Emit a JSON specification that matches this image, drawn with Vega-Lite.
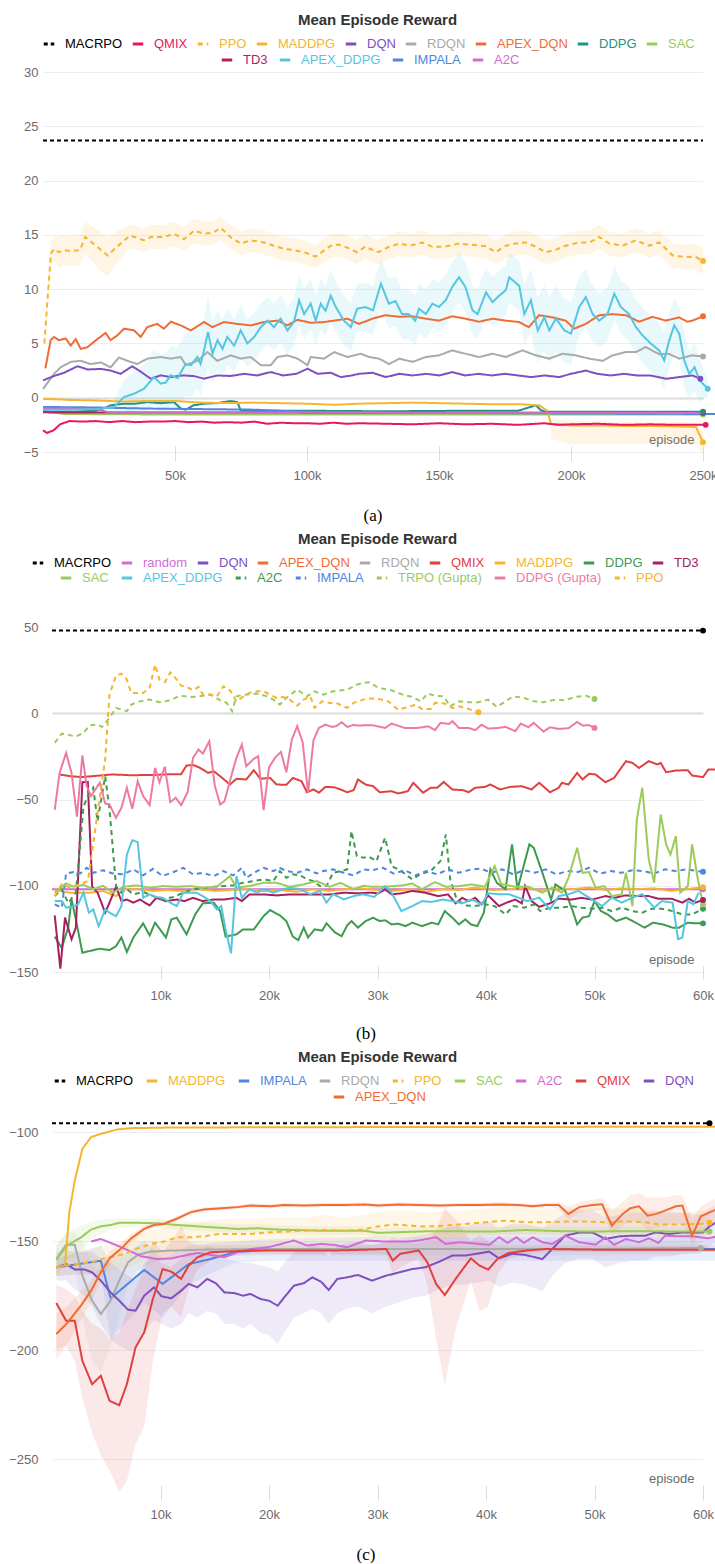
{
"$schema": "https://vega.github.io/schema/vega-lite/v6.json",
"padding": {"left": 8, "right": 0, "top": 13, "bottom": 0},
"spacing": 8,
"columns": 1,
"resolve": {"scale": {"color": "independent", "stroke": "independent", "strokeDash": "independent", "fill": "independent", "x": "independent", "y": "independent"}, "legend": {"color": "independent", "stroke": "independent", "strokeDash": "independent", "fill": "independent"}, "axis": {"x": "independent", "y": "independent"}},
"config": {
  "font": "Liberation Sans",
  "view": {"stroke": null},
  "axis": {"labelColor": "#6b6b6b", "labelFontSize": 13, "domain": false},
  "axisY": {"ticks": false, "tickSize": 0, "labelPadding": 14, "gridColor": "#ececec"},
  "axisX": {"grid": false, "tickColor": "#dddddd"},
  "legend": {"labelFont": "Liberation Sans", "title": null, "direction": "horizontal", "symbolType": "stroke", "symbolStrokeWidth": 3, "symbolSize": 110, "labelFontSize": 13, "columnPadding": 3, "labelOffset": 9}
},
"datasets": {
"a": [
{"s":"MACRPO","x":0,"y":23.7},{"s":"MACRPO","x":250,"y":23.7},
{"s":"SAC","x":0,"y":-1.2},{"s":"SAC","x":8,"y":-1.5},{"s":"SAC","x":50,"y":-1.55},{"s":"SAC","x":100,"y":-1.55},{"s":"SAC","x":150,"y":-1.55},{"s":"SAC","x":200,"y":-1.55},{"s":"SAC","x":250,"y":-1.55},
{"s":"TD3","x":0,"y":-1.35},{"s":"TD3","x":125,"y":-1.38},{"s":"TD3","x":250,"y":-1.4},
{"s":"IMPALA","x":0,"y":-0.85},{"s":"IMPALA","x":20,"y":-0.9},{"s":"IMPALA","x":40,"y":-1.0},{"s":"IMPALA","x":60,"y":-1.05},{"s":"IMPALA","x":80,"y":-1.1},{"s":"IMPALA","x":100,"y":-1.3},{"s":"IMPALA","x":150,"y":-1.4},{"s":"IMPALA","x":200,"y":-1.45},{"s":"IMPALA","x":256,"y":-1.5},
{"s":"A2C","x":0,"y":-1.0},{"s":"A2C","x":10,"y":-1.0},{"s":"A2C","x":20,"y":-1.05},{"s":"A2C","x":25,"y":-1.35},{"s":"A2C","x":250,"y":-1.4},
{"s":"DDPG","x":0,"y":-1.3},{"s":"DDPG","x":10,"y":-1.3},{"s":"DDPG","x":15,"y":-1.25},{"s":"DDPG","x":20,"y":-1.2},{"s":"DDPG","x":24,"y":-0.9},{"s":"DDPG","x":25.6,"y":-0.7},{"s":"DDPG","x":30.7,"y":-0.55},{"s":"DDPG","x":35,"y":-0.55},{"s":"DDPG","x":39.5,"y":-0.4},{"s":"DDPG","x":44.6,"y":-0.5},{"s":"DDPG","x":49.6,"y":-0.4},{"s":"DDPG","x":52.2,"y":-1.0},{"s":"DDPG","x":54.1,"y":-1.1},{"s":"DDPG","x":57,"y":-0.7},{"s":"DDPG","x":61,"y":-0.55},{"s":"DDPG","x":66,"y":-0.5},{"s":"DDPG","x":71,"y":-0.3},{"s":"DDPG","x":73.6,"y":-0.4},{"s":"DDPG","x":74.9,"y":-1.17},{"s":"DDPG","x":80,"y":-1.2},{"s":"DDPG","x":100,"y":-1.2},{"s":"DDPG","x":130,"y":-1.25},{"s":"DDPG","x":160,"y":-1.2},{"s":"DDPG","x":180,"y":-1.2},{"s":"DDPG","x":186.7,"y":-0.7},{"s":"DDPG","x":188.6,"y":-1.15},{"s":"DDPG","x":190.4,"y":-1.3},{"s":"DDPG","x":220,"y":-1.3},{"s":"DDPG","x":250,"y":-1.3},
{"s":"MADDPG","x":0,"y":-0.1},{"s":"MADDPG","x":10,"y":-0.2},{"s":"MADDPG","x":20,"y":-0.25},{"s":"MADDPG","x":30,"y":-0.35},{"s":"MADDPG","x":40,"y":-0.3},{"s":"MADDPG","x":50,"y":-0.3},{"s":"MADDPG","x":60,"y":-0.45},{"s":"MADDPG","x":70,"y":-0.5},{"s":"MADDPG","x":80,"y":-0.45},{"s":"MADDPG","x":90,"y":-0.5},{"s":"MADDPG","x":100,"y":-0.55},{"s":"MADDPG","x":110,"y":-0.65},{"s":"MADDPG","x":120,"y":-0.55},{"s":"MADDPG","x":130,"y":-0.5},{"s":"MADDPG","x":140,"y":-0.45},{"s":"MADDPG","x":150,"y":-0.5},{"s":"MADDPG","x":160,"y":-0.55},{"s":"MADDPG","x":170,"y":-0.6},{"s":"MADDPG","x":180,"y":-0.6},{"s":"MADDPG","x":188,"y":-0.7},{"s":"MADDPG","x":191,"y":-1.2},{"s":"MADDPG","x":192.4,"y":-2.4,"lo":-3.8,"hi":-2.0},{"s":"MADDPG","x":200,"y":-2.55,"lo":-4.3,"hi":-2.1},{"s":"MADDPG","x":210,"y":-2.55,"lo":-4.3,"hi":-2.2},{"s":"MADDPG","x":220,"y":-2.6,"lo":-4.3,"hi":-2.2},{"s":"MADDPG","x":230,"y":-2.6,"lo":-4.2,"hi":-2.2},{"s":"MADDPG","x":240,"y":-2.65,"lo":-4.2,"hi":-2.2},{"s":"MADDPG","x":247.3,"y":-2.7,"lo":-4.3,"hi":-2.3},{"s":"MADDPG","x":250,"y":-4.1,"lo":-5.2,"hi":-3.2},
{"s":"QMIX","x":0,"y":-3.0},{"s":"QMIX","x":1.5,"y":-3.25},{"s":"QMIX","x":4,"y":-3.0},{"s":"QMIX","x":6.5,"y":-2.45},{"s":"QMIX","x":10,"y":-2.15},{"s":"QMIX","x":15,"y":-2.2},{"s":"QMIX","x":20,"y":-2.15},{"s":"QMIX","x":25,"y":-2.25},{"s":"QMIX","x":30,"y":-2.15},{"s":"QMIX","x":35,"y":-2.25},{"s":"QMIX","x":40,"y":-2.2},{"s":"QMIX","x":45,"y":-2.2},{"s":"QMIX","x":50,"y":-2.15},{"s":"QMIX","x":55,"y":-2.25},{"s":"QMIX","x":60,"y":-2.2},{"s":"QMIX","x":65,"y":-2.3},{"s":"QMIX","x":70,"y":-2.25},{"s":"QMIX","x":75,"y":-2.3},{"s":"QMIX","x":80,"y":-2.2},{"s":"QMIX","x":85,"y":-2.4},{"s":"QMIX","x":90,"y":-2.3},{"s":"QMIX","x":95,"y":-2.35},{"s":"QMIX","x":100,"y":-2.35},{"s":"QMIX","x":105,"y":-2.4},{"s":"QMIX","x":110,"y":-2.3},{"s":"QMIX","x":115,"y":-2.4},{"s":"QMIX","x":120,"y":-2.35},{"s":"QMIX","x":130,"y":-2.4},{"s":"QMIX","x":140,"y":-2.45},{"s":"QMIX","x":150,"y":-2.35},{"s":"QMIX","x":160,"y":-2.45},{"s":"QMIX","x":170,"y":-2.4},{"s":"QMIX","x":180,"y":-2.5},{"s":"QMIX","x":190,"y":-2.35},{"s":"QMIX","x":195,"y":-2.5},{"s":"QMIX","x":200,"y":-2.45},{"s":"QMIX","x":210,"y":-2.4},{"s":"QMIX","x":220,"y":-2.5},{"s":"QMIX","x":230,"y":-2.45},{"s":"QMIX","x":240,"y":-2.5},{"s":"QMIX","x":251,"y":-2.5},
{"s":"RDQN","x":0,"y":0.8},{"s":"RDQN","x":4.2,"y":2.2},{"s":"RDQN","x":6.7,"y":2.8},{"s":"RDQN","x":10.5,"y":3.3},{"s":"RDQN","x":14.3,"y":3.4},{"s":"RDQN","x":18,"y":3.1},{"s":"RDQN","x":22,"y":3.25},{"s":"RDQN","x":25.6,"y":2.8},{"s":"RDQN","x":28.8,"y":3.7},{"s":"RDQN","x":32,"y":3.4},{"s":"RDQN","x":35.7,"y":3.1},{"s":"RDQN","x":39.5,"y":3.6},{"s":"RDQN","x":44.6,"y":3.75},{"s":"RDQN","x":48.4,"y":3.6},{"s":"RDQN","x":52.2,"y":3.75},{"s":"RDQN","x":54.1,"y":3.0},{"s":"RDQN","x":58.5,"y":3.4},{"s":"RDQN","x":62.3,"y":4.2},{"s":"RDQN","x":66,"y":3.4},{"s":"RDQN","x":71.1,"y":3.9},{"s":"RDQN","x":74.9,"y":3.6},{"s":"RDQN","x":78.7,"y":3.75},{"s":"RDQN","x":82.5,"y":3.0},{"s":"RDQN","x":86.3,"y":3.0},{"s":"RDQN","x":88.8,"y":3.75},{"s":"RDQN","x":92.6,"y":3.9},{"s":"RDQN","x":96.4,"y":3.6},{"s":"RDQN","x":100.2,"y":3.0},{"s":"RDQN","x":101.4,"y":3.75},{"s":"RDQN","x":106.5,"y":3.6},{"s":"RDQN","x":110.3,"y":4.2},{"s":"RDQN","x":115.3,"y":3.75},{"s":"RDQN","x":120.4,"y":4.05},{"s":"RDQN","x":123.5,"y":3.75},{"s":"RDQN","x":127.3,"y":3.6},{"s":"RDQN","x":131.1,"y":3.1},{"s":"RDQN","x":135,"y":3.6},{"s":"RDQN","x":140,"y":3.3},{"s":"RDQN","x":145,"y":3.75},{"s":"RDQN","x":150,"y":3.9},{"s":"RDQN","x":155,"y":4.36},{"s":"RDQN","x":160,"y":4.05},{"s":"RDQN","x":165.2,"y":3.75},{"s":"RDQN","x":170.3,"y":4.05},{"s":"RDQN","x":175.3,"y":3.75},{"s":"RDQN","x":181.6,"y":4.36},{"s":"RDQN","x":186.7,"y":3.9},{"s":"RDQN","x":191.7,"y":3.6},{"s":"RDQN","x":196.8,"y":4.05},{"s":"RDQN","x":201.8,"y":3.9},{"s":"RDQN","x":206.9,"y":3.6},{"s":"RDQN","x":212,"y":3.4},{"s":"RDQN","x":215.7,"y":3.9},{"s":"RDQN","x":220.8,"y":4.2},{"s":"RDQN","x":224.6,"y":4.2},{"s":"RDQN","x":228.3,"y":4.67},{"s":"RDQN","x":233.4,"y":4.0},{"s":"RDQN","x":237,"y":4.05},{"s":"RDQN","x":241,"y":3.6},{"s":"RDQN","x":245.7,"y":3.9},{"s":"RDQN","x":250,"y":3.8},
{"s":"DQN","x":0,"y":1.6},{"s":"DQN","x":4.2,"y":2.0},{"s":"DQN","x":8,"y":2.3},{"s":"DQN","x":13.1,"y":2.9},{"s":"DQN","x":16.9,"y":2.6},{"s":"DQN","x":22,"y":2.65},{"s":"DQN","x":25.6,"y":2.5},{"s":"DQN","x":29.4,"y":2.2},{"s":"DQN","x":33.8,"y":2.9},{"s":"DQN","x":37,"y":2.4},{"s":"DQN","x":40.8,"y":1.75},{"s":"DQN","x":44.6,"y":2.06},{"s":"DQN","x":48.4,"y":1.9},{"s":"DQN","x":53,"y":2.05},{"s":"DQN","x":57,"y":2.0},{"s":"DQN","x":61,"y":1.75},{"s":"DQN","x":66,"y":2.05},{"s":"DQN","x":71,"y":2.0},{"s":"DQN","x":76.2,"y":2.2},{"s":"DQN","x":81,"y":2.05},{"s":"DQN","x":86.3,"y":2.36},{"s":"DQN","x":91,"y":2.05},{"s":"DQN","x":96,"y":2.2},{"s":"DQN","x":100.2,"y":2.67},{"s":"DQN","x":104,"y":2.2},{"s":"DQN","x":109,"y":2.3},{"s":"DQN","x":112.8,"y":1.9},{"s":"DQN","x":117,"y":2.05},{"s":"DQN","x":119.7,"y":2.2},{"s":"DQN","x":124.8,"y":2.3},{"s":"DQN","x":129.8,"y":1.9},{"s":"DQN","x":135,"y":2.2},{"s":"DQN","x":140,"y":2.05},{"s":"DQN","x":145,"y":2.2},{"s":"DQN","x":150,"y":2.05},{"s":"DQN","x":155,"y":2.36},{"s":"DQN","x":160,"y":2.05},{"s":"DQN","x":165,"y":2.2},{"s":"DQN","x":170,"y":2.05},{"s":"DQN","x":175,"y":2.2},{"s":"DQN","x":180,"y":2.05},{"s":"DQN","x":185,"y":1.9},{"s":"DQN","x":190,"y":2.05},{"s":"DQN","x":195.5,"y":1.9},{"s":"DQN","x":200,"y":2.2},{"s":"DQN","x":205.6,"y":2.5},{"s":"DQN","x":210,"y":2.2},{"s":"DQN","x":215,"y":2.05},{"s":"DQN","x":220,"y":2.2},{"s":"DQN","x":225,"y":2.05},{"s":"DQN","x":230,"y":2.05},{"s":"DQN","x":236,"y":1.75},{"s":"DQN","x":241,"y":1.9},{"s":"DQN","x":246,"y":2.05},{"s":"DQN","x":249,"y":1.75},
{"s":"APEX_DQN","x":0.9,"y":2.7},{"s":"APEX_DQN","x":2.9,"y":5.3},{"s":"APEX_DQN","x":4.2,"y":5.6},{"s":"APEX_DQN","x":6,"y":5.3},{"s":"APEX_DQN","x":8.6,"y":5.45},{"s":"APEX_DQN","x":10.5,"y":4.8},{"s":"APEX_DQN","x":12.4,"y":5.4},{"s":"APEX_DQN","x":14.3,"y":4.5},{"s":"APEX_DQN","x":16.8,"y":4.65},{"s":"APEX_DQN","x":20.6,"y":5.4},{"s":"APEX_DQN","x":23.7,"y":5.96},{"s":"APEX_DQN","x":25.6,"y":5.3},{"s":"APEX_DQN","x":28.2,"y":5.75},{"s":"APEX_DQN","x":30.7,"y":6.36},{"s":"APEX_DQN","x":34.5,"y":6.2},{"s":"APEX_DQN","x":37,"y":5.6},{"s":"APEX_DQN","x":39.5,"y":6.5},{"s":"APEX_DQN","x":43.3,"y":6.8},{"s":"APEX_DQN","x":45.8,"y":6.36},{"s":"APEX_DQN","x":48.4,"y":7.0},{"s":"APEX_DQN","x":52.2,"y":6.66},{"s":"APEX_DQN","x":56,"y":6.2},{"s":"APEX_DQN","x":61,"y":6.97},{"s":"APEX_DQN","x":64.2,"y":6.5},{"s":"APEX_DQN","x":68.6,"y":6.97},{"s":"APEX_DQN","x":73.6,"y":6.8},{"s":"APEX_DQN","x":78.7,"y":6.66},{"s":"APEX_DQN","x":83.7,"y":6.97},{"s":"APEX_DQN","x":88.8,"y":7.1},{"s":"APEX_DQN","x":92.6,"y":6.66},{"s":"APEX_DQN","x":96.4,"y":7.18},{"s":"APEX_DQN","x":101.4,"y":6.9},{"s":"APEX_DQN","x":106.5,"y":6.97},{"s":"APEX_DQN","x":110.3,"y":7.1},{"s":"APEX_DQN","x":115.3,"y":7.28},{"s":"APEX_DQN","x":119.7,"y":6.8},{"s":"APEX_DQN","x":124.8,"y":7.28},{"s":"APEX_DQN","x":129.8,"y":7.6},{"s":"APEX_DQN","x":134.9,"y":7.45},{"s":"APEX_DQN","x":139.9,"y":7.5},{"s":"APEX_DQN","x":145,"y":7.28},{"s":"APEX_DQN","x":150,"y":7.1},{"s":"APEX_DQN","x":155,"y":7.5},{"s":"APEX_DQN","x":160,"y":7.28},{"s":"APEX_DQN","x":165.2,"y":7.0},{"s":"APEX_DQN","x":170.3,"y":7.28},{"s":"APEX_DQN","x":175.3,"y":7.1},{"s":"APEX_DQN","x":180.3,"y":6.97},{"s":"APEX_DQN","x":184,"y":6.5},{"s":"APEX_DQN","x":187.9,"y":7.6},{"s":"APEX_DQN","x":193,"y":7.4},{"s":"APEX_DQN","x":198,"y":7.1},{"s":"APEX_DQN","x":201.2,"y":6.36},{"s":"APEX_DQN","x":205.6,"y":6.8},{"s":"APEX_DQN","x":210.7,"y":7.6},{"s":"APEX_DQN","x":215.7,"y":7.7},{"s":"APEX_DQN","x":220.8,"y":7.6},{"s":"APEX_DQN","x":225.8,"y":7.0},{"s":"APEX_DQN","x":230.9,"y":7.45},{"s":"APEX_DQN","x":235.9,"y":7.1},{"s":"APEX_DQN","x":241,"y":7.4},{"s":"APEX_DQN","x":244,"y":7.0},{"s":"APEX_DQN","x":246,"y":7.1},{"s":"APEX_DQN","x":250,"y":7.5},
{"s":"APEX_DDPG","x":0,"y":-1.1},{"s":"APEX_DDPG","x":10,"y":-1.1},{"s":"APEX_DDPG","x":20,"y":-1.05},{"s":"APEX_DDPG","x":26.9,"y":-0.86,"lo":-1.5,"hi":-0.2},{"s":"APEX_DDPG","x":30.7,"y":0.06,"lo":-1.5,"hi":1.6},{"s":"APEX_DDPG","x":34.5,"y":0.37,"lo":-1.6,"hi":2.4},{"s":"APEX_DDPG","x":38.3,"y":0.83,"lo":-1.4,"hi":3.1},{"s":"APEX_DDPG","x":42,"y":1.9,"lo":-0.6,"hi":4.4},{"s":"APEX_DDPG","x":44.6,"y":1.3,"lo":-1.4,"hi":4.0},{"s":"APEX_DDPG","x":46.5,"y":1.4,"lo":-1.3,"hi":4.1},{"s":"APEX_DDPG","x":48.4,"y":2.06,"lo":-0.7,"hi":4.8},{"s":"APEX_DDPG","x":51,"y":1.8,"lo":-1.0,"hi":4.6},{"s":"APEX_DDPG","x":54,"y":3.1,"lo":0.2,"hi":6.0},{"s":"APEX_DDPG","x":56,"y":3.0,"lo":0.1,"hi":5.9},{"s":"APEX_DDPG","x":58.5,"y":3.75,"lo":0.8,"hi":6.7},{"s":"APEX_DDPG","x":59.7,"y":3.1,"lo":0.2,"hi":6.0},{"s":"APEX_DDPG","x":61,"y":4.36,"lo":1.4,"hi":7.3},{"s":"APEX_DDPG","x":62.5,"y":6.05,"lo":2.8,"hi":9.3},{"s":"APEX_DDPG","x":64.2,"y":4.05,"lo":1.2,"hi":6.9},{"s":"APEX_DDPG","x":66.1,"y":5.3,"lo":2.5,"hi":8.1},{"s":"APEX_DDPG","x":68,"y":4.5,"lo":1.8,"hi":7.2},{"s":"APEX_DDPG","x":69.8,"y":5.6,"lo":3.0,"hi":8.2},{"s":"APEX_DDPG","x":72.4,"y":4.8,"lo":2.4,"hi":7.2},{"s":"APEX_DDPG","x":74.9,"y":6.2,"lo":3.8,"hi":8.6},{"s":"APEX_DDPG","x":77.4,"y":5.0,"lo":2.8,"hi":7.2},{"s":"APEX_DDPG","x":80,"y":5.6,"lo":3.4,"hi":7.8},{"s":"APEX_DDPG","x":82.5,"y":6.5,"lo":4.3,"hi":8.7},{"s":"APEX_DDPG","x":85,"y":7.1,"lo":4.9,"hi":9.3},{"s":"APEX_DDPG","x":87.5,"y":6.5,"lo":4.3,"hi":8.7},{"s":"APEX_DDPG","x":90,"y":7.28,"lo":5.1,"hi":9.5},{"s":"APEX_DDPG","x":92.6,"y":6.2,"lo":4.0,"hi":8.4},{"s":"APEX_DDPG","x":95.1,"y":7.0,"lo":4.8,"hi":9.2},{"s":"APEX_DDPG","x":97,"y":8.97,"lo":6.6,"hi":11.3},{"s":"APEX_DDPG","x":98.9,"y":7.7,"lo":5.4,"hi":10.0},{"s":"APEX_DDPG","x":101.4,"y":8.66,"lo":6.3,"hi":11.0},{"s":"APEX_DDPG","x":103.3,"y":7.1,"lo":4.8,"hi":9.4},{"s":"APEX_DDPG","x":105.2,"y":8.66,"lo":6.3,"hi":11.0},{"s":"APEX_DDPG","x":107,"y":8.0,"lo":5.7,"hi":10.3},{"s":"APEX_DDPG","x":109,"y":9.4,"lo":7.0,"hi":11.8},{"s":"APEX_DDPG","x":110.9,"y":8.35,"lo":6.0,"hi":10.7},{"s":"APEX_DDPG","x":114,"y":7.1,"lo":4.8,"hi":9.4},{"s":"APEX_DDPG","x":116.6,"y":6.5,"lo":4.3,"hi":8.7},{"s":"APEX_DDPG","x":119,"y":8.2,"lo":6.0,"hi":10.4},{"s":"APEX_DDPG","x":122.2,"y":8.35,"lo":6.1,"hi":10.6},{"s":"APEX_DDPG","x":125,"y":8.05,"lo":5.8,"hi":10.3},{"s":"APEX_DDPG","x":128,"y":10.5,"lo":8.2,"hi":12.8},{"s":"APEX_DDPG","x":131,"y":8.66,"lo":6.4,"hi":10.9},{"s":"APEX_DDPG","x":133.5,"y":8.9,"lo":6.6,"hi":11.2},{"s":"APEX_DDPG","x":136,"y":7.7,"lo":5.4,"hi":10.0},{"s":"APEX_DDPG","x":138.5,"y":7.7,"lo":5.4,"hi":10.0},{"s":"APEX_DDPG","x":141,"y":7.1,"lo":4.8,"hi":9.4},{"s":"APEX_DDPG","x":142.4,"y":8.2,"lo":5.9,"hi":10.5},{"s":"APEX_DDPG","x":145,"y":7.7,"lo":5.4,"hi":10.0},{"s":"APEX_DDPG","x":147.5,"y":8.66,"lo":6.4,"hi":10.9},{"s":"APEX_DDPG","x":150,"y":8.35,"lo":6.1,"hi":10.6},{"s":"APEX_DDPG","x":152.6,"y":9.0,"lo":6.7,"hi":11.3},{"s":"APEX_DDPG","x":155,"y":10.2,"lo":7.9,"hi":12.5},{"s":"APEX_DDPG","x":157.6,"y":11.1,"lo":8.8,"hi":13.4},{"s":"APEX_DDPG","x":160,"y":10.2,"lo":7.9,"hi":12.5},{"s":"APEX_DDPG","x":162.7,"y":8.05,"lo":5.8,"hi":10.3},{"s":"APEX_DDPG","x":164.6,"y":7.7,"lo":5.4,"hi":10.0},{"s":"APEX_DDPG","x":167.8,"y":9.7,"lo":7.4,"hi":12.0},{"s":"APEX_DDPG","x":170.3,"y":8.8,"lo":6.5,"hi":11.1},{"s":"APEX_DDPG","x":172.8,"y":9.4,"lo":7.1,"hi":11.7},{"s":"APEX_DDPG","x":175.3,"y":9.9,"lo":7.6,"hi":12.2},{"s":"APEX_DDPG","x":176.6,"y":11.1,"lo":8.8,"hi":13.4},{"s":"APEX_DDPG","x":180.4,"y":10.3,"lo":8.0,"hi":12.6},{"s":"APEX_DDPG","x":182.3,"y":7.7,"lo":5.0,"hi":10.4},{"s":"APEX_DDPG","x":184.8,"y":8.97,"lo":6.0,"hi":11.9},{"s":"APEX_DDPG","x":187.4,"y":6.2,"lo":3.2,"hi":9.2},{"s":"APEX_DDPG","x":189.9,"y":7.4,"lo":4.4,"hi":10.4},{"s":"APEX_DDPG","x":191.8,"y":6.2,"lo":3.2,"hi":9.2},{"s":"APEX_DDPG","x":194.3,"y":7.3,"lo":4.3,"hi":10.3},{"s":"APEX_DDPG","x":197.5,"y":6.2,"lo":3.2,"hi":9.2},{"s":"APEX_DDPG","x":200,"y":5.9,"lo":3.0,"hi":8.8},{"s":"APEX_DDPG","x":203.1,"y":8.35,"lo":5.6,"hi":11.1},{"s":"APEX_DDPG","x":205.6,"y":9.27,"lo":6.6,"hi":11.9},{"s":"APEX_DDPG","x":208.2,"y":7.7,"lo":5.1,"hi":10.3},{"s":"APEX_DDPG","x":210.7,"y":7.1,"lo":4.6,"hi":9.6},{"s":"APEX_DDPG","x":213.8,"y":7.7,"lo":5.2,"hi":10.2},{"s":"APEX_DDPG","x":216.4,"y":9.58,"lo":7.1,"hi":12.1},{"s":"APEX_DDPG","x":218.9,"y":8.35,"lo":5.9,"hi":10.8},{"s":"APEX_DDPG","x":222,"y":7.7,"lo":5.2,"hi":10.2},{"s":"APEX_DDPG","x":224.6,"y":6.5,"lo":4.0,"hi":9.0},{"s":"APEX_DDPG","x":227.1,"y":5.74,"lo":3.2,"hi":8.3},{"s":"APEX_DDPG","x":230.3,"y":4.97,"lo":2.4,"hi":7.5},{"s":"APEX_DDPG","x":233.4,"y":4.36,"lo":1.8,"hi":6.9},{"s":"APEX_DDPG","x":235.3,"y":3.44,"lo":0.9,"hi":6.0},{"s":"APEX_DDPG","x":237.2,"y":5.28,"lo":2.7,"hi":7.8},{"s":"APEX_DDPG","x":239.1,"y":6.66,"lo":4.1,"hi":9.2},{"s":"APEX_DDPG","x":241,"y":5.9,"lo":3.4,"hi":8.4},{"s":"APEX_DDPG","x":242.9,"y":3.44,"lo":0.9,"hi":6.0},{"s":"APEX_DDPG","x":244.8,"y":2.2,"lo":0.0,"hi":4.4},{"s":"APEX_DDPG","x":246.8,"y":2.8,"lo":0.6,"hi":5.0},{"s":"APEX_DDPG","x":248.7,"y":1.6,"lo":-0.4,"hi":3.6},{"s":"APEX_DDPG","x":251.8,"y":0.83,"lo":0.0,"hi":1.7},
{"s":"PPO","x":0.5,"y":5.0,"lo":4.4,"hi":5.6},{"s":"PPO","x":3,"y":13.3,"lo":12.3,"hi":14.3},{"s":"PPO","x":4.2,"y":13.7,"lo":12.5,"hi":14.9},{"s":"PPO","x":6,"y":13.4,"lo":12.0,"hi":14.8},{"s":"PPO","x":8,"y":13.6,"lo":12.2,"hi":15.0},{"s":"PPO","x":10.5,"y":13.5,"lo":12.1,"hi":14.9},{"s":"PPO","x":14,"y":13.6,"lo":12.2,"hi":15.0},{"s":"PPO","x":16,"y":14.8,"lo":13.3,"hi":16.2},{"s":"PPO","x":18.5,"y":14.3,"lo":12.6,"hi":15.8},{"s":"PPO","x":22,"y":13.6,"lo":11.6,"hi":15.2},{"s":"PPO","x":24.5,"y":13.1,"lo":11.2,"hi":14.8},{"s":"PPO","x":28,"y":13.9,"lo":12.4,"hi":15.3},{"s":"PPO","x":33,"y":14.95,"lo":13.8,"hi":16.0},{"s":"PPO","x":38,"y":14.5,"lo":13.4,"hi":15.6},{"s":"PPO","x":41,"y":14.8,"lo":13.7,"hi":15.9},{"s":"PPO","x":45.8,"y":14.8,"lo":13.7,"hi":15.9},{"s":"PPO","x":49.6,"y":15.1,"lo":14.0,"hi":16.2},{"s":"PPO","x":53.4,"y":14.6,"lo":13.5,"hi":15.7},{"s":"PPO","x":57.2,"y":15.4,"lo":14.3,"hi":16.5},{"s":"PPO","x":61,"y":15.1,"lo":14.0,"hi":16.2},{"s":"PPO","x":64.5,"y":15.2,"lo":14.1,"hi":16.3},{"s":"PPO","x":67.3,"y":15.65,"lo":14.5,"hi":16.7},{"s":"PPO","x":71,"y":14.8,"lo":13.7,"hi":15.9},{"s":"PPO","x":74.9,"y":14.2,"lo":13.1,"hi":15.3},{"s":"PPO","x":78.7,"y":14.5,"lo":13.4,"hi":15.6},{"s":"PPO","x":83.7,"y":14.3,"lo":13.2,"hi":15.4},{"s":"PPO","x":87.5,"y":14.0,"lo":12.9,"hi":15.1},{"s":"PPO","x":91.3,"y":13.7,"lo":12.6,"hi":14.8},{"s":"PPO","x":95,"y":13.6,"lo":12.5,"hi":14.7},{"s":"PPO","x":98.9,"y":13.4,"lo":12.3,"hi":14.5},{"s":"PPO","x":103.3,"y":13.0,"lo":11.9,"hi":14.1},{"s":"PPO","x":105,"y":13.3,"lo":12.2,"hi":14.4},{"s":"PPO","x":109,"y":14.0,"lo":12.9,"hi":15.1},{"s":"PPO","x":112,"y":14.1,"lo":13.0,"hi":15.2},{"s":"PPO","x":115.5,"y":13.8,"lo":12.7,"hi":14.9},{"s":"PPO","x":119,"y":13.4,"lo":12.3,"hi":14.5},{"s":"PPO","x":122,"y":13.9,"lo":12.8,"hi":15.0},{"s":"PPO","x":127,"y":13.4,"lo":12.3,"hi":14.5},{"s":"PPO","x":131,"y":13.9,"lo":12.8,"hi":15.0},{"s":"PPO","x":135,"y":14.2,"lo":13.1,"hi":15.3},{"s":"PPO","x":139,"y":14.0,"lo":12.9,"hi":15.1},{"s":"PPO","x":143.7,"y":14.3,"lo":13.2,"hi":15.4},{"s":"PPO","x":147.5,"y":13.9,"lo":12.8,"hi":15.0},{"s":"PPO","x":152,"y":13.9,"lo":12.8,"hi":15.0},{"s":"PPO","x":157.6,"y":14.2,"lo":13.1,"hi":15.3},{"s":"PPO","x":162,"y":14.1,"lo":13.0,"hi":15.2},{"s":"PPO","x":167.7,"y":13.95,"lo":12.8,"hi":15.1},{"s":"PPO","x":171.5,"y":13.4,"lo":12.3,"hi":14.5},{"s":"PPO","x":175.3,"y":14.0,"lo":12.9,"hi":15.1},{"s":"PPO","x":179,"y":14.2,"lo":13.1,"hi":15.3},{"s":"PPO","x":182.9,"y":14.3,"lo":13.2,"hi":15.4},{"s":"PPO","x":186.7,"y":13.9,"lo":12.8,"hi":15.0},{"s":"PPO","x":190.4,"y":13.4,"lo":12.3,"hi":14.5},{"s":"PPO","x":194,"y":13.6,"lo":12.5,"hi":14.7},{"s":"PPO","x":198,"y":14.0,"lo":12.9,"hi":15.1},{"s":"PPO","x":203,"y":14.3,"lo":13.2,"hi":15.4},{"s":"PPO","x":207,"y":14.3,"lo":13.2,"hi":15.4},{"s":"PPO","x":210.7,"y":14.8,"lo":13.7,"hi":15.9},{"s":"PPO","x":214.5,"y":14.2,"lo":13.1,"hi":15.3},{"s":"PPO","x":219.5,"y":14.0,"lo":12.9,"hi":15.1},{"s":"PPO","x":224.6,"y":14.5,"lo":13.4,"hi":15.6},{"s":"PPO","x":229.6,"y":14.0,"lo":12.9,"hi":15.1},{"s":"PPO","x":233.4,"y":14.3,"lo":13.2,"hi":15.4},{"s":"PPO","x":238.5,"y":13.1,"lo":12.0,"hi":14.2},{"s":"PPO","x":243.5,"y":12.96,"lo":11.8,"hi":14.1},{"s":"PPO","x":247,"y":13.0,"lo":11.8,"hi":14.2},{"s":"PPO","x":250,"y":12.6,"lo":11.4,"hi":13.8}
],
"b": [
{"s":"MACRPO","x":0,"y":47.9},{"s":"MACRPO","x":60,"y":47.9},
{"s":"random","x":0,"y":-102},{"s":"random","x":60,"y":-102},
{"s":"MADDPG","x":0.25,"y":-102.5},{"s":"MADDPG","x":1.6,"y":-104},{"s":"MADDPG","x":3.5,"y":-104},{"s":"MADDPG","x":4.7,"y":-103},{"s":"MADDPG","x":5.9,"y":-106},{"s":"MADDPG","x":6.6,"y":-102},{"s":"MADDPG","x":7.9,"y":-102},{"s":"MADDPG","x":9.3,"y":-103},{"s":"MADDPG","x":10.5,"y":-102.5},{"s":"MADDPG","x":12,"y":-103},{"s":"MADDPG","x":13.5,"y":-102},{"s":"MADDPG","x":15,"y":-103},{"s":"MADDPG","x":16.5,"y":-102.5},{"s":"MADDPG","x":18,"y":-102},{"s":"MADDPG","x":19.5,"y":-103},{"s":"MADDPG","x":21,"y":-102.5},{"s":"MADDPG","x":22.5,"y":-103.5},{"s":"MADDPG","x":24,"y":-102},{"s":"MADDPG","x":25.5,"y":-103},{"s":"MADDPG","x":27,"y":-102},{"s":"MADDPG","x":28.5,"y":-101.5},{"s":"MADDPG","x":30,"y":-102.5},{"s":"MADDPG","x":31.5,"y":-103},{"s":"MADDPG","x":33,"y":-102},{"s":"MADDPG","x":34.5,"y":-103.5},{"s":"MADDPG","x":36,"y":-102},{"s":"MADDPG","x":37.5,"y":-102.5},{"s":"MADDPG","x":39,"y":-101},{"s":"MADDPG","x":40.5,"y":-102.5},{"s":"MADDPG","x":42,"y":-102},{"s":"MADDPG","x":43.5,"y":-101.5},{"s":"MADDPG","x":45,"y":-102.5},{"s":"MADDPG","x":46.5,"y":-101.5},{"s":"MADDPG","x":48,"y":-102},{"s":"MADDPG","x":49.5,"y":-101},{"s":"MADDPG","x":51,"y":-102.5},{"s":"MADDPG","x":52.5,"y":-101.5},{"s":"MADDPG","x":54,"y":-102},{"s":"MADDPG","x":55.5,"y":-101.5},{"s":"MADDPG","x":57,"y":-103},{"s":"MADDPG","x":58.5,"y":-102},{"s":"MADDPG","x":60,"y":-100.8},
{"s":"DDPG","x":0.25,"y":-129.5},{"s":"DDPG","x":0.9,"y":-136},{"s":"DDPG","x":1.5,"y":-124},{"s":"DDPG","x":1.8,"y":-108},{"s":"DDPG","x":2.2,"y":-119.5},{"s":"DDPG","x":2.8,"y":-138.8},{"s":"DDPG","x":3.5,"y":-137.8},{"s":"DDPG","x":4.4,"y":-136.5},{"s":"DDPG","x":5.3,"y":-137.3},{"s":"DDPG","x":5.9,"y":-135},{"s":"DDPG","x":6.4,"y":-130},{"s":"DDPG","x":6.9,"y":-138.4},{"s":"DDPG","x":7.5,"y":-130},{"s":"DDPG","x":8.4,"y":-121.8},{"s":"DDPG","x":9,"y":-128.8},{"s":"DDPG","x":9.5,"y":-121.4},{"s":"DDPG","x":10.5,"y":-130},{"s":"DDPG","x":11,"y":-119.5},{"s":"DDPG","x":11.5,"y":-118.5},{"s":"DDPG","x":12.4,"y":-128.2},{"s":"DDPG","x":13.2,"y":-116.6},{"s":"DDPG","x":13.9,"y":-110.2},{"s":"DDPG","x":14.9,"y":-109.8},{"s":"DDPG","x":15.5,"y":-114.7},{"s":"DDPG","x":16,"y":-129.5},{"s":"DDPG","x":17,"y":-128.2},{"s":"DDPG","x":17.6,"y":-125.3},{"s":"DDPG","x":18.6,"y":-125.3},{"s":"DDPG","x":19.5,"y":-117.6},{"s":"DDPG","x":20.1,"y":-114.1},{"s":"DDPG","x":21,"y":-117.2},{"s":"DDPG","x":21.6,"y":-120.5},{"s":"DDPG","x":22.2,"y":-129.5},{"s":"DDPG","x":22.7,"y":-131.5},{"s":"DDPG","x":23.2,"y":-124.3},{"s":"DDPG","x":23.6,"y":-130},{"s":"DDPG","x":24.2,"y":-125.3},{"s":"DDPG","x":24.9,"y":-126},{"s":"DDPG","x":25.3,"y":-121.8},{"s":"DDPG","x":26.1,"y":-127.2},{"s":"DDPG","x":26.7,"y":-129.2},{"s":"DDPG","x":27.2,"y":-123},{"s":"DDPG","x":27.6,"y":-120.5},{"s":"DDPG","x":28.2,"y":-124.3},{"s":"DDPG","x":28.9,"y":-120.5},{"s":"DDPG","x":29.6,"y":-118.5},{"s":"DDPG","x":30.2,"y":-120.5},{"s":"DDPG","x":30.7,"y":-120},{"s":"DDPG","x":31.3,"y":-122.4},{"s":"DDPG","x":31.9,"y":-122},{"s":"DDPG","x":32.6,"y":-123.4},{"s":"DDPG","x":33.2,"y":-121.4},{"s":"DDPG","x":34.1,"y":-123.4},{"s":"DDPG","x":35,"y":-121.4},{"s":"DDPG","x":35.6,"y":-122.4},{"s":"DDPG","x":36.2,"y":-114.7},{"s":"DDPG","x":36.9,"y":-118.5},{"s":"DDPG","x":37.5,"y":-122.4},{"s":"DDPG","x":38.1,"y":-119.5},{"s":"DDPG","x":38.6,"y":-122.4},{"s":"DDPG","x":39.2,"y":-123.4},{"s":"DDPG","x":39.8,"y":-115.6},{"s":"DDPG","x":40.4,"y":-90.5},{"s":"DDPG","x":41,"y":-98.3},{"s":"DDPG","x":41.8,"y":-102},{"s":"DDPG","x":42.4,"y":-76},{"s":"DDPG","x":42.9,"y":-102},{"s":"DDPG","x":44,"y":-76},{"s":"DDPG","x":44.4,"y":-78},{"s":"DDPG","x":45.2,"y":-92.5},{"s":"DDPG","x":46,"y":-108},{"s":"DDPG","x":46.4,"y":-99.2},{"s":"DDPG","x":47.3,"y":-103},{"s":"DDPG","x":48,"y":-114.7},{"s":"DDPG","x":48.4,"y":-122.4},{"s":"DDPG","x":48.9,"y":-118.5},{"s":"DDPG","x":49.5,"y":-117.6},{"s":"DDPG","x":50,"y":-108.9},{"s":"DDPG","x":50.6,"y":-114.7},{"s":"DDPG","x":51.2,"y":-116.6},{"s":"DDPG","x":52,"y":-120.5},{"s":"DDPG","x":52.9,"y":-118.5},{"s":"DDPG","x":53.8,"y":-121.4},{"s":"DDPG","x":54.6,"y":-124.3},{"s":"DDPG","x":55.4,"y":-121.4},{"s":"DDPG","x":56.3,"y":-122.4},{"s":"DDPG","x":57.2,"y":-124.3},{"s":"DDPG","x":57.8,"y":-124.3},{"s":"DDPG","x":58.6,"y":-121.4},{"s":"DDPG","x":59.3,"y":-121.8},{"s":"DDPG","x":60,"y":-121.8},
{"s":"A2C","x":0.25,"y":-106},{"s":"A2C","x":0.9,"y":-102},{"s":"A2C","x":1.5,"y":-110},{"s":"A2C","x":2.2,"y":-104},{"s":"A2C","x":2.9,"y":-54.2},{"s":"A2C","x":3.3,"y":-48},{"s":"A2C","x":3.8,"y":-43.2},{"s":"A2C","x":4.2,"y":-62.5},{"s":"A2C","x":4.9,"y":-36.5},{"s":"A2C","x":5.3,"y":-55.8},{"s":"A2C","x":5.9,"y":-100.2},{"s":"A2C","x":6.4,"y":-104},{"s":"A2C","x":6.9,"y":-102},{"s":"A2C","x":7.5,"y":-105},{"s":"A2C","x":8.4,"y":-103.5},{"s":"A2C","x":9.3,"y":-106},{"s":"A2C","x":10.2,"y":-108},{"s":"A2C","x":11.2,"y":-106.5},{"s":"A2C","x":12.1,"y":-104},{"s":"A2C","x":13,"y":-102},{"s":"A2C","x":13.9,"y":-101.5},{"s":"A2C","x":14.9,"y":-100.6},{"s":"A2C","x":15.8,"y":-100.2},{"s":"A2C","x":16.7,"y":-99.8},{"s":"A2C","x":17.6,"y":-98.3},{"s":"A2C","x":18.6,"y":-97.3},{"s":"A2C","x":19.5,"y":-96.3},{"s":"A2C","x":20.4,"y":-97.3},{"s":"A2C","x":21,"y":-91.5},{"s":"A2C","x":21.6,"y":-95.4},{"s":"A2C","x":22.2,"y":-93.4},{"s":"A2C","x":22.9,"y":-94},{"s":"A2C","x":23.5,"y":-96.3},{"s":"A2C","x":24.1,"y":-97.3},{"s":"A2C","x":24.7,"y":-100.2},{"s":"A2C","x":25.3,"y":-100.2},{"s":"A2C","x":25.9,"y":-92.5},{"s":"A2C","x":26.6,"y":-91.5},{"s":"A2C","x":27.2,"y":-90.5},{"s":"A2C","x":27.6,"y":-68.3},{"s":"A2C","x":28.1,"y":-82.8},{"s":"A2C","x":28.7,"y":-83.8},{"s":"A2C","x":29.2,"y":-83.2},{"s":"A2C","x":29.9,"y":-85.7},{"s":"A2C","x":30.7,"y":-72.2},{"s":"A2C","x":31.3,"y":-88.6},{"s":"A2C","x":32.2,"y":-91.5},{"s":"A2C","x":33.2,"y":-96.3},{"s":"A2C","x":33.9,"y":-93.4},{"s":"A2C","x":34.9,"y":-91.5},{"s":"A2C","x":35.8,"y":-85.7},{"s":"A2C","x":36.3,"y":-70.3},{"s":"A2C","x":36.7,"y":-96.3},{"s":"A2C","x":37.3,"y":-107.9},{"s":"A2C","x":38.1,"y":-111.4},{"s":"A2C","x":39,"y":-111.8},{"s":"A2C","x":39.9,"y":-110.8},{"s":"A2C","x":40.8,"y":-111.8},{"s":"A2C","x":41.8,"y":-116.6},{"s":"A2C","x":42.5,"y":-111.8},{"s":"A2C","x":43.5,"y":-112.7},{"s":"A2C","x":44.4,"y":-110.8},{"s":"A2C","x":45,"y":-114.7},{"s":"A2C","x":45.9,"y":-112.7},{"s":"A2C","x":46.9,"y":-112.7},{"s":"A2C","x":47.9,"y":-111.8},{"s":"A2C","x":48.8,"y":-112.7},{"s":"A2C","x":49.8,"y":-113.3},{"s":"A2C","x":50.7,"y":-112.7},{"s":"A2C","x":51.6,"y":-114.7},{"s":"A2C","x":52.5,"y":-112.7},{"s":"A2C","x":53.5,"y":-114.7},{"s":"A2C","x":54.4,"y":-115.6},{"s":"A2C","x":55.3,"y":-113.3},{"s":"A2C","x":56.2,"y":-113.3},{"s":"A2C","x":57.2,"y":-114.7},{"s":"A2C","x":58.1,"y":-116.6},{"s":"A2C","x":59,"y":-116.6},{"s":"A2C","x":60,"y":-113.3},
{"s":"IMPALA","x":0.25,"y":-110.8},{"s":"IMPALA","x":0.9,"y":-112.7},{"s":"IMPALA","x":1.3,"y":-92.9},{"s":"IMPALA","x":2,"y":-92},{"s":"IMPALA","x":2.6,"y":-92.9},{"s":"IMPALA","x":3.2,"y":-89.6},{"s":"IMPALA","x":3.8,"y":-92.5},{"s":"IMPALA","x":4.7,"y":-91},{"s":"IMPALA","x":5.6,"y":-92.9},{"s":"IMPALA","x":6.6,"y":-93.4},{"s":"IMPALA","x":7.5,"y":-90.5},{"s":"IMPALA","x":8.4,"y":-94},{"s":"IMPALA","x":9.3,"y":-90.2},{"s":"IMPALA","x":10.2,"y":-94.4},{"s":"IMPALA","x":11.2,"y":-92},{"s":"IMPALA","x":12.1,"y":-89.6},{"s":"IMPALA","x":13,"y":-93.4},{"s":"IMPALA","x":13.9,"y":-92.5},{"s":"IMPALA","x":14.9,"y":-94.4},{"s":"IMPALA","x":15.8,"y":-91.5},{"s":"IMPALA","x":16.7,"y":-94},{"s":"IMPALA","x":17.5,"y":-89.6},{"s":"IMPALA","x":17.9,"y":-95.4},{"s":"IMPALA","x":18.9,"y":-91.5},{"s":"IMPALA","x":19.5,"y":-89.6},{"s":"IMPALA","x":20.4,"y":-91.5},{"s":"IMPALA","x":21,"y":-89.6},{"s":"IMPALA","x":21.6,"y":-91.5},{"s":"IMPALA","x":22.6,"y":-92.5},{"s":"IMPALA","x":23.5,"y":-90.5},{"s":"IMPALA","x":24.4,"y":-92.9},{"s":"IMPALA","x":25,"y":-91.5},{"s":"IMPALA","x":25.9,"y":-90.5},{"s":"IMPALA","x":26.9,"y":-92.5},{"s":"IMPALA","x":27.8,"y":-94},{"s":"IMPALA","x":28.7,"y":-90.5},{"s":"IMPALA","x":29.5,"y":-91},{"s":"IMPALA","x":30.5,"y":-89.6},{"s":"IMPALA","x":31.5,"y":-93},{"s":"IMPALA","x":32.5,"y":-91},{"s":"IMPALA","x":33.5,"y":-94},{"s":"IMPALA","x":34.5,"y":-91.5},{"s":"IMPALA","x":35.5,"y":-93.4},{"s":"IMPALA","x":36.5,"y":-90.5},{"s":"IMPALA","x":37.5,"y":-92.5},{"s":"IMPALA","x":38.5,"y":-90.8},{"s":"IMPALA","x":39.5,"y":-90},{"s":"IMPALA","x":40.5,"y":-92.5},{"s":"IMPALA","x":41.5,"y":-90.5},{"s":"IMPALA","x":42.5,"y":-93.4},{"s":"IMPALA","x":43.5,"y":-91},{"s":"IMPALA","x":44.5,"y":-92.5},{"s":"IMPALA","x":45.5,"y":-90.5},{"s":"IMPALA","x":46.5,"y":-93.4},{"s":"IMPALA","x":47.5,"y":-91.5},{"s":"IMPALA","x":48.5,"y":-92},{"s":"IMPALA","x":49.5,"y":-89.6},{"s":"IMPALA","x":50.5,"y":-93},{"s":"IMPALA","x":51.5,"y":-91.5},{"s":"IMPALA","x":52.5,"y":-92.5},{"s":"IMPALA","x":53.5,"y":-91},{"s":"IMPALA","x":54.5,"y":-91.5},{"s":"IMPALA","x":55.5,"y":-92.9},{"s":"IMPALA","x":56.5,"y":-90.5},{"s":"IMPALA","x":57.5,"y":-91.5},{"s":"IMPALA","x":58.5,"y":-90.5},{"s":"IMPALA","x":59.5,"y":-91.5},{"s":"IMPALA","x":60,"y":-91.9},
{"s":"SAC","x":0.25,"y":-104},{"s":"SAC","x":1.3,"y":-98.7},{"s":"SAC","x":2,"y":-100.6},{"s":"SAC","x":2.9,"y":-99.5},{"s":"SAC","x":3.8,"y":-102},{"s":"SAC","x":4.7,"y":-100},{"s":"SAC","x":5.6,"y":-104},{"s":"SAC","x":6.6,"y":-100.6},{"s":"SAC","x":7.8,"y":-99.8},{"s":"SAC","x":9,"y":-101.1},{"s":"SAC","x":10.2,"y":-100.2},{"s":"SAC","x":11.5,"y":-100.6},{"s":"SAC","x":12.7,"y":-100.2},{"s":"SAC","x":13.9,"y":-101.1},{"s":"SAC","x":15.2,"y":-100.6},{"s":"SAC","x":16.4,"y":-94.4},{"s":"SAC","x":17,"y":-101.1},{"s":"SAC","x":18.2,"y":-100.2},{"s":"SAC","x":19.5,"y":-98.3},{"s":"SAC","x":20.7,"y":-98.3},{"s":"SAC","x":21.9,"y":-100.6},{"s":"SAC","x":23.2,"y":-99.2},{"s":"SAC","x":24.4,"y":-97.3},{"s":"SAC","x":25.6,"y":-100.6},{"s":"SAC","x":26.6,"y":-98.3},{"s":"SAC","x":27.8,"y":-102},{"s":"SAC","x":28.7,"y":-100},{"s":"SAC","x":29.5,"y":-100.6},{"s":"SAC","x":30.7,"y":-100.6},{"s":"SAC","x":32.3,"y":-99.8},{"s":"SAC","x":33.2,"y":-98.7},{"s":"SAC","x":34.1,"y":-102},{"s":"SAC","x":35.3,"y":-97.9},{"s":"SAC","x":36.3,"y":-100.6},{"s":"SAC","x":37.5,"y":-100.2},{"s":"SAC","x":38.7,"y":-99.2},{"s":"SAC","x":39.9,"y":-100.6},{"s":"SAC","x":40.8,"y":-88.6},{"s":"SAC","x":41.4,"y":-99},{"s":"SAC","x":42.7,"y":-100.6},{"s":"SAC","x":43.9,"y":-100.6},{"s":"SAC","x":45.2,"y":-104},{"s":"SAC","x":46.1,"y":-101.1},{"s":"SAC","x":47,"y":-104},{"s":"SAC","x":47.6,"y":-95.4},{"s":"SAC","x":48.4,"y":-78},{"s":"SAC","x":48.9,"y":-92.5},{"s":"SAC","x":49.5,"y":-92},{"s":"SAC","x":50.1,"y":-101.1},{"s":"SAC","x":50.9,"y":-100.2},{"s":"SAC","x":51.6,"y":-106},{"s":"SAC","x":52.5,"y":-105},{"s":"SAC","x":52.9,"y":-92.5},{"s":"SAC","x":53.5,"y":-111.8},{"s":"SAC","x":53.9,"y":-61.6},{"s":"SAC","x":54.4,"y":-43.2},{"s":"SAC","x":55,"y":-84.7},{"s":"SAC","x":55.5,"y":-98.3},{"s":"SAC","x":56.1,"y":-58.7},{"s":"SAC","x":56.6,"y":-76},{"s":"SAC","x":57,"y":-81.9},{"s":"SAC","x":57.5,"y":-71.2},{"s":"SAC","x":57.9,"y":-104},{"s":"SAC","x":58.6,"y":-100.2},{"s":"SAC","x":59,"y":-76},{"s":"SAC","x":59.5,"y":-95.4},{"s":"SAC","x":60,"y":-110.8},
{"s":"APEX_DDPG","x":0.25,"y":-108.9},{"s":"APEX_DDPG","x":0.9,"y":-108.9},{"s":"APEX_DDPG","x":1.3,"y":-112.7},{"s":"APEX_DDPG","x":2,"y":-111.8},{"s":"APEX_DDPG","x":2.4,"y":-110.8},{"s":"APEX_DDPG","x":2.9,"y":-104},{"s":"APEX_DDPG","x":3.4,"y":-115.6},{"s":"APEX_DDPG","x":3.8,"y":-113.7},{"s":"APEX_DDPG","x":4.3,"y":-123.4},{"s":"APEX_DDPG","x":4.9,"y":-113.7},{"s":"APEX_DDPG","x":5.3,"y":-115.6},{"s":"APEX_DDPG","x":5.9,"y":-117.6},{"s":"APEX_DDPG","x":6.4,"y":-111.8},{"s":"APEX_DDPG","x":6.9,"y":-81.9},{"s":"APEX_DDPG","x":7.4,"y":-73.6},{"s":"APEX_DDPG","x":7.9,"y":-74.7},{"s":"APEX_DDPG","x":8.4,"y":-107},{"s":"APEX_DDPG","x":9,"y":-105},{"s":"APEX_DDPG","x":9.6,"y":-106.5},{"s":"APEX_DDPG","x":10.2,"y":-107},{"s":"APEX_DDPG","x":10.9,"y":-109.8},{"s":"APEX_DDPG","x":11.5,"y":-111.8},{"s":"APEX_DDPG","x":12.1,"y":-104},{"s":"APEX_DDPG","x":12.7,"y":-104},{"s":"APEX_DDPG","x":13.3,"y":-104},{"s":"APEX_DDPG","x":13.9,"y":-106},{"s":"APEX_DDPG","x":14.6,"y":-108.9},{"s":"APEX_DDPG","x":15.2,"y":-113.7},{"s":"APEX_DDPG","x":15.6,"y":-111.8},{"s":"APEX_DDPG","x":16,"y":-125.3},{"s":"APEX_DDPG","x":16.5,"y":-139.2},{"s":"APEX_DDPG","x":17,"y":-94.4},{"s":"APEX_DDPG","x":17.5,"y":-107},{"s":"APEX_DDPG","x":18.2,"y":-102},{"s":"APEX_DDPG","x":18.9,"y":-104},{"s":"APEX_DDPG","x":19.5,"y":-102},{"s":"APEX_DDPG","x":20.4,"y":-104},{"s":"APEX_DDPG","x":21.3,"y":-102},{"s":"APEX_DDPG","x":21.9,"y":-101.1},{"s":"APEX_DDPG","x":22.9,"y":-102},{"s":"APEX_DDPG","x":23.8,"y":-104.9},{"s":"APEX_DDPG","x":24.7,"y":-103},{"s":"APEX_DDPG","x":25.3,"y":-109.8},{"s":"APEX_DDPG","x":25.9,"y":-104.9},{"s":"APEX_DDPG","x":26.9,"y":-107.9},{"s":"APEX_DDPG","x":27.8,"y":-106},{"s":"APEX_DDPG","x":28.7,"y":-104.9},{"s":"APEX_DDPG","x":29.7,"y":-106.5},{"s":"APEX_DDPG","x":30.7,"y":-100.2},{"s":"APEX_DDPG","x":31.3,"y":-104},{"s":"APEX_DDPG","x":32.2,"y":-114.7},{"s":"APEX_DDPG","x":33.2,"y":-111.8},{"s":"APEX_DDPG","x":34.1,"y":-108.9},{"s":"APEX_DDPG","x":35,"y":-109.4},{"s":"APEX_DDPG","x":36,"y":-108},{"s":"APEX_DDPG","x":36.9,"y":-108.9},{"s":"APEX_DDPG","x":37.8,"y":-110.2},{"s":"APEX_DDPG","x":38.7,"y":-108},{"s":"APEX_DDPG","x":39.6,"y":-110.8},{"s":"APEX_DDPG","x":40.2,"y":-104.4},{"s":"APEX_DDPG","x":41.2,"y":-104.9},{"s":"APEX_DDPG","x":42.1,"y":-104.9},{"s":"APEX_DDPG","x":43,"y":-106.9},{"s":"APEX_DDPG","x":43.8,"y":-108.9},{"s":"APEX_DDPG","x":44.9,"y":-106.9},{"s":"APEX_DDPG","x":45.9,"y":-113.7},{"s":"APEX_DDPG","x":46.7,"y":-106},{"s":"APEX_DDPG","x":47.6,"y":-104.9},{"s":"APEX_DDPG","x":48.5,"y":-103},{"s":"APEX_DDPG","x":49.8,"y":-108},{"s":"APEX_DDPG","x":50.7,"y":-111.8},{"s":"APEX_DDPG","x":51.6,"y":-106.9},{"s":"APEX_DDPG","x":52.5,"y":-109.8},{"s":"APEX_DDPG","x":53.5,"y":-106.9},{"s":"APEX_DDPG","x":54.4,"y":-104.9},{"s":"APEX_DDPG","x":55.5,"y":-112.7},{"s":"APEX_DDPG","x":56.2,"y":-108.9},{"s":"APEX_DDPG","x":57.2,"y":-109.8},{"s":"APEX_DDPG","x":57.7,"y":-131},{"s":"APEX_DDPG","x":58.1,"y":-130},{"s":"APEX_DDPG","x":58.6,"y":-108.9},{"s":"APEX_DDPG","x":59.1,"y":-110.8},{"s":"APEX_DDPG","x":59.6,"y":-104},
{"s":"TD3","x":0.25,"y":-117.2},{"s":"TD3","x":0.77,"y":-148},{"s":"TD3","x":1.2,"y":-118.5},{"s":"TD3","x":1.8,"y":-131},{"s":"TD3","x":2.2,"y":-124.3},{"s":"TD3","x":2.8,"y":-40},{"s":"TD3","x":3.3,"y":-39.8},{"s":"TD3","x":3.7,"y":-100.6},{"s":"TD3","x":4.2,"y":-104},{"s":"TD3","x":4.9,"y":-115.6},{"s":"TD3","x":5.3,"y":-109.8},{"s":"TD3","x":5.9,"y":-100.6},{"s":"TD3","x":6.4,"y":-108.9},{"s":"TD3","x":6.9,"y":-108},{"s":"TD3","x":7.5,"y":-109.8},{"s":"TD3","x":8.1,"y":-108},{"s":"TD3","x":9,"y":-111.4},{"s":"TD3","x":9.6,"y":-107},{"s":"TD3","x":10.5,"y":-108.9},{"s":"TD3","x":11.5,"y":-108},{"s":"TD3","x":12.2,"y":-108.9},{"s":"TD3","x":13,"y":-107},{"s":"TD3","x":13.9,"y":-108.9},{"s":"TD3","x":14.9,"y":-108},{"s":"TD3","x":15.8,"y":-108},{"s":"TD3","x":17,"y":-107},{"s":"TD3","x":17.5,"y":-108.9},{"s":"TD3","x":18.2,"y":-105},{"s":"TD3","x":19.5,"y":-105},{"s":"TD3","x":20.7,"y":-105.6},{"s":"TD3","x":22,"y":-105},{"s":"TD3","x":23.2,"y":-105},{"s":"TD3","x":24.4,"y":-105},{"s":"TD3","x":25.6,"y":-105},{"s":"TD3","x":26.9,"y":-104},{"s":"TD3","x":28.1,"y":-104.4},{"s":"TD3","x":29.4,"y":-104},{"s":"TD3","x":30.1,"y":-104.4},{"s":"TD3","x":30.7,"y":-102},{"s":"TD3","x":31.3,"y":-105},{"s":"TD3","x":32.2,"y":-104.4},{"s":"TD3","x":33.2,"y":-103},{"s":"TD3","x":34.4,"y":-104},{"s":"TD3","x":35.6,"y":-106},{"s":"TD3","x":36.5,"y":-105},{"s":"TD3","x":37.2,"y":-110.2},{"s":"TD3","x":37.8,"y":-107},{"s":"TD3","x":38.4,"y":-108.9},{"s":"TD3","x":39,"y":-107},{"s":"TD3","x":39.6,"y":-110.8},{"s":"TD3","x":40.2,"y":-105.6},{"s":"TD3","x":41.2,"y":-111.8},{"s":"TD3","x":41.9,"y":-109.8},{"s":"TD3","x":42.7,"y":-108},{"s":"TD3","x":43.3,"y":-110.2},{"s":"TD3","x":43.6,"y":-100.2},{"s":"TD3","x":44.2,"y":-108.9},{"s":"TD3","x":44.9,"y":-112.2},{"s":"TD3","x":45.9,"y":-110.2},{"s":"TD3","x":46.7,"y":-107.5},{"s":"TD3","x":47.9,"y":-108},{"s":"TD3","x":48.8,"y":-107},{"s":"TD3","x":49.8,"y":-108},{"s":"TD3","x":51,"y":-106},{"s":"TD3","x":51.9,"y":-107},{"s":"TD3","x":52.8,"y":-105.6},{"s":"TD3","x":53.8,"y":-106},{"s":"TD3","x":55,"y":-106},{"s":"TD3","x":55.9,"y":-107.5},{"s":"TD3","x":57.1,"y":-107.5},{"s":"TD3","x":58.1,"y":-109.8},{"s":"TD3","x":58.7,"y":-107.5},{"s":"TD3","x":59.3,"y":-109.8},{"s":"TD3","x":60,"y":-108.3},
{"s":"QMIX","x":0.7,"y":-35.5},{"s":"QMIX","x":1.7,"y":-36.5},{"s":"QMIX","x":2.7,"y":-37},{"s":"QMIX","x":3.7,"y":-36.5},{"s":"QMIX","x":4.6,"y":-36},{"s":"QMIX","x":5.5,"y":-35.5},{"s":"QMIX","x":6.5,"y":-35.7},{"s":"QMIX","x":7.4,"y":-36},{"s":"QMIX","x":8.3,"y":-35.8},{"s":"QMIX","x":9.3,"y":-35.8},{"s":"QMIX","x":10.2,"y":-35.5},{"s":"QMIX","x":11.1,"y":-35.3},{"s":"QMIX","x":11.9,"y":-35.3},{"s":"QMIX","x":12.4,"y":-30.3},{"s":"QMIX","x":13,"y":-30},{"s":"QMIX","x":13.6,"y":-31.5},{"s":"QMIX","x":14.4,"y":-34.6},{"s":"QMIX","x":14.9,"y":-33.6},{"s":"QMIX","x":15.5,"y":-36.5},{"s":"QMIX","x":16.4,"y":-41.3},{"s":"QMIX","x":17,"y":-38},{"s":"QMIX","x":17.9,"y":-38.4},{"s":"QMIX","x":18.6,"y":-33},{"s":"QMIX","x":19.2,"y":-38},{"s":"QMIX","x":20.1,"y":-37.5},{"s":"QMIX","x":20.7,"y":-41.3},{"s":"QMIX","x":21.6,"y":-41.5},{"s":"QMIX","x":22.2,"y":-37.5},{"s":"QMIX","x":23,"y":-39.4},{"s":"QMIX","x":23.5,"y":-45.8},{"s":"QMIX","x":24.1,"y":-44.2},{"s":"QMIX","x":24.6,"y":-46.1},{"s":"QMIX","x":25.2,"y":-42.7},{"s":"QMIX","x":26,"y":-42.9},{"s":"QMIX","x":26.6,"y":-44.2},{"s":"QMIX","x":27.2,"y":-45.8},{"s":"QMIX","x":27.8,"y":-44.6},{"s":"QMIX","x":28.2,"y":-38.4},{"s":"QMIX","x":28.9,"y":-41.3},{"s":"QMIX","x":29.6,"y":-42.3},{"s":"QMIX","x":30.2,"y":-45.8},{"s":"QMIX","x":31.3,"y":-45.2},{"s":"QMIX","x":31.9,"y":-46.5},{"s":"QMIX","x":32.8,"y":-45.2},{"s":"QMIX","x":33.3,"y":-40.3},{"s":"QMIX","x":34.2,"y":-46.1},{"s":"QMIX","x":34.9,"y":-43.2},{"s":"QMIX","x":35.5,"y":-43.2},{"s":"QMIX","x":36.1,"y":-39.8},{"s":"QMIX","x":36.9,"y":-44.2},{"s":"QMIX","x":37.9,"y":-44.6},{"s":"QMIX","x":38.4,"y":-45.8},{"s":"QMIX","x":39,"y":-43.2},{"s":"QMIX","x":39.9,"y":-42.7},{"s":"QMIX","x":40.4,"y":-41.3},{"s":"QMIX","x":41.3,"y":-44.2},{"s":"QMIX","x":42.2,"y":-42.7},{"s":"QMIX","x":43.3,"y":-42.3},{"s":"QMIX","x":44.2,"y":-44.2},{"s":"QMIX","x":44.9,"y":-40.3},{"s":"QMIX","x":45.9,"y":-45.8},{"s":"QMIX","x":46.7,"y":-43.2},{"s":"QMIX","x":47,"y":-40.3},{"s":"QMIX","x":47.6,"y":-41.3},{"s":"QMIX","x":48.4,"y":-34.6},{"s":"QMIX","x":48.9,"y":-38.4},{"s":"QMIX","x":49.5,"y":-35.1},{"s":"QMIX","x":50.1,"y":-35.5},{"s":"QMIX","x":51,"y":-40},{"s":"QMIX","x":51.8,"y":-37.5},{"s":"QMIX","x":52.9,"y":-27.8},{"s":"QMIX","x":53.5,"y":-28.8},{"s":"QMIX","x":54.1,"y":-31.7},{"s":"QMIX","x":55,"y":-27.8},{"s":"QMIX","x":55.8,"y":-29.7},{"s":"QMIX","x":56.1,"y":-28.8},{"s":"QMIX","x":56.6,"y":-34.2},{"s":"QMIX","x":57.5,"y":-33.2},{"s":"QMIX","x":58.6,"y":-33},{"s":"QMIX","x":59,"y":-36.1},{"s":"QMIX","x":60,"y":-37},{"s":"QMIX","x":60.5,"y":-32.6},{"s":"QMIX","x":61.5,"y":-32.6},
{"s":"DDPG (Gupta)","x":0.25,"y":-56},{"s":"DDPG (Gupta)","x":0.7,"y":-34.6},{"s":"DDPG (Gupta)","x":1.3,"y":-23},{"s":"DDPG (Gupta)","x":1.8,"y":-34.6},{"s":"DDPG (Gupta)","x":2.3,"y":-60},{"s":"DDPG (Gupta)","x":2.8,"y":-24.5},{"s":"DDPG (Gupta)","x":3.2,"y":-42.3},{"s":"DDPG (Gupta)","x":3.6,"y":-48},{"s":"DDPG (Gupta)","x":4.4,"y":-40.3},{"s":"DDPG (Gupta)","x":4.9,"y":-52.3},{"s":"DDPG (Gupta)","x":5.3,"y":-52.9},{"s":"DDPG (Gupta)","x":5.9,"y":-60.6},{"s":"DDPG (Gupta)","x":6.4,"y":-54.8},{"s":"DDPG (Gupta)","x":6.9,"y":-43.2},{"s":"DDPG (Gupta)","x":7.4,"y":-55.4},{"s":"DDPG (Gupta)","x":7.9,"y":-39.4},{"s":"DDPG (Gupta)","x":8.4,"y":-48},{"s":"DDPG (Gupta)","x":9,"y":-53.3},{"s":"DDPG (Gupta)","x":9.5,"y":-31.7},{"s":"DDPG (Gupta)","x":9.9,"y":-40},{"s":"DDPG (Gupta)","x":10.4,"y":-31},{"s":"DDPG (Gupta)","x":10.9,"y":-51.5},{"s":"DDPG (Gupta)","x":11.4,"y":-49},{"s":"DDPG (Gupta)","x":11.9,"y":-53.3},{"s":"DDPG (Gupta)","x":12.5,"y":-45.8},{"s":"DDPG (Gupta)","x":13,"y":-25.9},{"s":"DDPG (Gupta)","x":13.5,"y":-21},{"s":"DDPG (Gupta)","x":13.9,"y":-23.4},{"s":"DDPG (Gupta)","x":14.5,"y":-16.2},{"s":"DDPG (Gupta)","x":15,"y":-41.9},{"s":"DDPG (Gupta)","x":15.5,"y":-52.9},{"s":"DDPG (Gupta)","x":15.9,"y":-51},{"s":"DDPG (Gupta)","x":16.6,"y":-34.6},{"s":"DDPG (Gupta)","x":17,"y":-25.9},{"s":"DDPG (Gupta)","x":17.5,"y":-18.1},{"s":"DDPG (Gupta)","x":17.9,"y":-30.7},{"s":"DDPG (Gupta)","x":18.6,"y":-26.4},{"s":"DDPG (Gupta)","x":19,"y":-24.9},{"s":"DDPG (Gupta)","x":19.5,"y":-56.2},{"s":"DDPG (Gupta)","x":20,"y":-31.3},{"s":"DDPG (Gupta)","x":20.6,"y":-25.5},{"s":"DDPG (Gupta)","x":21.1,"y":-22.4},{"s":"DDPG (Gupta)","x":21.6,"y":-34.2},{"s":"DDPG (Gupta)","x":22.1,"y":-15.3},{"s":"DDPG (Gupta)","x":22.6,"y":-7.5},{"s":"DDPG (Gupta)","x":23.1,"y":-16.8},{"s":"DDPG (Gupta)","x":23.6,"y":-46.1},{"s":"DDPG (Gupta)","x":24.1,"y":-15.6},{"s":"DDPG (Gupta)","x":24.6,"y":-8.5},{"s":"DDPG (Gupta)","x":25.2,"y":-6.6},{"s":"DDPG (Gupta)","x":25.8,"y":-7.9},{"s":"DDPG (Gupta)","x":26.2,"y":-7.5},{"s":"DDPG (Gupta)","x":26.7,"y":-5.2},{"s":"DDPG (Gupta)","x":27.2,"y":-7.9},{"s":"DDPG (Gupta)","x":27.8,"y":-6.8},{"s":"DDPG (Gupta)","x":28.2,"y":-7.1},{"s":"DDPG (Gupta)","x":29.5,"y":-6.9},{"s":"DDPG (Gupta)","x":30.7,"y":-8.5},{"s":"DDPG (Gupta)","x":31.3,"y":-6},{"s":"DDPG (Gupta)","x":32.5,"y":-8.5},{"s":"DDPG (Gupta)","x":33.7,"y":-8.5},{"s":"DDPG (Gupta)","x":34.7,"y":-7.6},{"s":"DDPG (Gupta)","x":35.3,"y":-9.8},{"s":"DDPG (Gupta)","x":35.8,"y":-5.6},{"s":"DDPG (Gupta)","x":36.6,"y":-6.2},{"s":"DDPG (Gupta)","x":36.9,"y":-4.6},{"s":"DDPG (Gupta)","x":37.5,"y":-8.5},{"s":"DDPG (Gupta)","x":38.4,"y":-8.5},{"s":"DDPG (Gupta)","x":39,"y":-9.8},{"s":"DDPG (Gupta)","x":39.6,"y":-6.6},{"s":"DDPG (Gupta)","x":40.2,"y":-8.9},{"s":"DDPG (Gupta)","x":41.1,"y":-8.5},{"s":"DDPG (Gupta)","x":41.8,"y":-7.9},{"s":"DDPG (Gupta)","x":42.7,"y":-10.4},{"s":"DDPG (Gupta)","x":43.2,"y":-6},{"s":"DDPG (Gupta)","x":43.9,"y":-8.1},{"s":"DDPG (Gupta)","x":44.4,"y":-5.6},{"s":"DDPG (Gupta)","x":45.3,"y":-10.6},{"s":"DDPG (Gupta)","x":45.9,"y":-8.1},{"s":"DDPG (Gupta)","x":46.7,"y":-9.1},{"s":"DDPG (Gupta)","x":47.6,"y":-8.7},{"s":"DDPG (Gupta)","x":48.4,"y":-5},{"s":"DDPG (Gupta)","x":48.9,"y":-7.1},{"s":"DDPG (Gupta)","x":49.5,"y":-6.9},{"s":"DDPG (Gupta)","x":50,"y":-8.5},
{"s":"TRPO (Gupta)","x":0.25,"y":-17.2},{"s":"TRPO (Gupta)","x":0.9,"y":-11.8},{"s":"TRPO (Gupta)","x":1.5,"y":-12.5},{"s":"TRPO (Gupta)","x":2.2,"y":-13.5},{"s":"TRPO (Gupta)","x":2.9,"y":-11.4},{"s":"TRPO (Gupta)","x":3.5,"y":-6.9},{"s":"TRPO (Gupta)","x":4.2,"y":-6.6},{"s":"TRPO (Gupta)","x":4.6,"y":-8},{"s":"TRPO (Gupta)","x":5.3,"y":-2.7},{"s":"TRPO (Gupta)","x":5.9,"y":3.1},{"s":"TRPO (Gupta)","x":6.9,"y":1.2},{"s":"TRPO (Gupta)","x":7.3,"y":5},{"s":"TRPO (Gupta)","x":8.1,"y":6.9},{"s":"TRPO (Gupta)","x":9,"y":7.9},{"s":"TRPO (Gupta)","x":9.9,"y":6.4},{"s":"TRPO (Gupta)","x":10.9,"y":7.5},{"s":"TRPO (Gupta)","x":11.8,"y":10.2},{"s":"TRPO (Gupta)","x":12.7,"y":9.4},{"s":"TRPO (Gupta)","x":13.6,"y":9.8},{"s":"TRPO (Gupta)","x":14.6,"y":10.8},{"s":"TRPO (Gupta)","x":15.5,"y":7.5},{"s":"TRPO (Gupta)","x":16.1,"y":6},{"s":"TRPO (Gupta)","x":16.6,"y":1.2},{"s":"TRPO (Gupta)","x":17,"y":9.8},{"s":"TRPO (Gupta)","x":17.9,"y":10.8},{"s":"TRPO (Gupta)","x":18.9,"y":11.4},{"s":"TRPO (Gupta)","x":19.8,"y":9.8},{"s":"TRPO (Gupta)","x":20.4,"y":7.9},{"s":"TRPO (Gupta)","x":21,"y":5},{"s":"TRPO (Gupta)","x":21.6,"y":8.9},{"s":"TRPO (Gupta)","x":22.6,"y":13.7},{"s":"TRPO (Gupta)","x":23.5,"y":9.8},{"s":"TRPO (Gupta)","x":24.2,"y":12.7},{"s":"TRPO (Gupta)","x":25,"y":10.8},{"s":"TRPO (Gupta)","x":25.9,"y":12.7},{"s":"TRPO (Gupta)","x":27.2,"y":13.7},{"s":"TRPO (Gupta)","x":28.1,"y":16.6},{"s":"TRPO (Gupta)","x":28.7,"y":17.6},{"s":"TRPO (Gupta)","x":29.2,"y":18},{"s":"TRPO (Gupta)","x":30.1,"y":14.7},{"s":"TRPO (Gupta)","x":31.3,"y":13.3},{"s":"TRPO (Gupta)","x":32.3,"y":10.8},{"s":"TRPO (Gupta)","x":33.2,"y":9.5},{"s":"TRPO (Gupta)","x":34,"y":6.9},{"s":"TRPO (Gupta)","x":34.6,"y":11.4},{"s":"TRPO (Gupta)","x":35.3,"y":10.2},{"s":"TRPO (Gupta)","x":36.1,"y":9.8},{"s":"TRPO (Gupta)","x":36.7,"y":4},{"s":"TRPO (Gupta)","x":37.5,"y":6.9},{"s":"TRPO (Gupta)","x":38.4,"y":6.4},{"s":"TRPO (Gupta)","x":39.3,"y":6.4},{"s":"TRPO (Gupta)","x":40.2,"y":7.9},{"s":"TRPO (Gupta)","x":41,"y":3.7},{"s":"TRPO (Gupta)","x":41.8,"y":6.9},{"s":"TRPO (Gupta)","x":42.5,"y":9.8},{"s":"TRPO (Gupta)","x":43.5,"y":8.9},{"s":"TRPO (Gupta)","x":44.4,"y":6.9},{"s":"TRPO (Gupta)","x":45.3,"y":6.4},{"s":"TRPO (Gupta)","x":46.4,"y":7.9},{"s":"TRPO (Gupta)","x":47.3,"y":7.5},{"s":"TRPO (Gupta)","x":48.2,"y":9.5},{"s":"TRPO (Gupta)","x":49.2,"y":10.2},{"s":"TRPO (Gupta)","x":50,"y":8.3},
{"s":"PPO","x":0.25,"y":-106},{"s":"PPO","x":0.9,"y":-99.2},{"s":"PPO","x":1.6,"y":-101},{"s":"PPO","x":2.6,"y":-99.2},{"s":"PPO","x":3.3,"y":-97.3},{"s":"PPO","x":3.6,"y":-84.7},{"s":"PPO","x":4.2,"y":-57.7},{"s":"PPO","x":4.9,"y":-26.8},{"s":"PPO","x":5.3,"y":10.8},{"s":"PPO","x":5.9,"y":21.8},{"s":"PPO","x":6.4,"y":23},{"s":"PPO","x":6.9,"y":19.5},{"s":"PPO","x":7.3,"y":11.8},{"s":"PPO","x":7.8,"y":11.8},{"s":"PPO","x":8.4,"y":11.8},{"s":"PPO","x":9,"y":14.7},{"s":"PPO","x":9.5,"y":28.2},{"s":"PPO","x":9.9,"y":19.5},{"s":"PPO","x":10.4,"y":18},{"s":"PPO","x":10.9,"y":23.7},{"s":"PPO","x":11.5,"y":19.5},{"s":"PPO","x":11.9,"y":16},{"s":"PPO","x":12.4,"y":15.3},{"s":"PPO","x":13,"y":13.3},{"s":"PPO","x":13.5,"y":15.3},{"s":"PPO","x":13.9,"y":10.8},{"s":"PPO","x":14.6,"y":10.8},{"s":"PPO","x":15.2,"y":9.8},{"s":"PPO","x":15.8,"y":15.6},{"s":"PPO","x":16.4,"y":13.3},{"s":"PPO","x":17,"y":6.9},{"s":"PPO","x":17.6,"y":9.5},{"s":"PPO","x":18.2,"y":11.8},{"s":"PPO","x":18.9,"y":12.7},{"s":"PPO","x":19.5,"y":12.7},{"s":"PPO","x":20.1,"y":10.8},{"s":"PPO","x":20.7,"y":8.9},{"s":"PPO","x":21.3,"y":9.4},{"s":"PPO","x":21.9,"y":7.9},{"s":"PPO","x":22.6,"y":4.4},{"s":"PPO","x":23.2,"y":7.9},{"s":"PPO","x":23.8,"y":9.8},{"s":"PPO","x":24.2,"y":3.1},{"s":"PPO","x":24.9,"y":6.9},{"s":"PPO","x":25.6,"y":6},{"s":"PPO","x":26.2,"y":6},{"s":"PPO","x":27.2,"y":3.1},{"s":"PPO","x":27.8,"y":6},{"s":"PPO","x":28.7,"y":7.9},{"s":"PPO","x":29.2,"y":8.5},{"s":"PPO","x":30.1,"y":8.3},{"s":"PPO","x":31,"y":6.9},{"s":"PPO","x":31.9,"y":2.1},{"s":"PPO","x":32.9,"y":3.7},{"s":"PPO","x":33.5,"y":5},{"s":"PPO","x":34.1,"y":2.5},{"s":"PPO","x":34.9,"y":2.5},{"s":"PPO","x":35.3,"y":6},{"s":"PPO","x":36.2,"y":5.6},{"s":"PPO","x":36.9,"y":3.1},{"s":"PPO","x":37.5,"y":4},{"s":"PPO","x":38.4,"y":2.5},{"s":"PPO","x":38.9,"y":1.2},{"s":"PPO","x":39.3,"y":0.6}
],
"c": [
{"s":"MACRPO","x":0,"y":-95.9},{"s":"MACRPO","x":60.6,"y":-95.9},
{"s":"IMPALA","x":0.4,"y":-162,"lo":-166,"hi":-158},{"s":"IMPALA","x":4.5,"y":-159,"lo":-165,"hi":-152},{"s":"IMPALA","x":5.4,"y":-176.2,"lo":-195,"hi":-160},{"s":"IMPALA","x":8.5,"y":-163.2,"lo":-178,"hi":-150},{"s":"IMPALA","x":10.2,"y":-169.6,"lo":-185,"hi":-158},{"s":"IMPALA","x":12.6,"y":-160.5,"lo":-170,"hi":-152},{"s":"IMPALA","x":14.6,"y":-158.2,"lo":-165,"hi":-151},{"s":"IMPALA","x":16.8,"y":-155.1,"lo":-160,"hi":-150},{"s":"IMPALA","x":20.2,"y":-153.9,"lo":-159,"hi":-149},{"s":"IMPALA","x":30,"y":-153.6,"lo":-159,"hi":-148},{"s":"IMPALA","x":40,"y":-153.6,"lo":-159,"hi":-148},{"s":"IMPALA","x":50,"y":-153.6,"lo":-159,"hi":-148},{"s":"IMPALA","x":61.5,"y":-153.6,"lo":-159,"hi":-148},
{"s":"RDQN","x":0.4,"y":-158.2,"lo":-165,"hi":-152},{"s":"RDQN","x":1.3,"y":-151.6,"lo":-158,"hi":-146},{"s":"RDQN","x":2.1,"y":-151.7,"lo":-160,"hi":-146},{"s":"RDQN","x":2.8,"y":-165.8,"lo":-185,"hi":-150},{"s":"RDQN","x":3.7,"y":-177.3,"lo":-205,"hi":-160},{"s":"RDQN","x":4.5,"y":-183.4,"lo":-210,"hi":-165},{"s":"RDQN","x":5.4,"y":-177.3,"lo":-198,"hi":-158},{"s":"RDQN","x":6.2,"y":-168.1,"lo":-185,"hi":-155},{"s":"RDQN","x":7,"y":-159.7,"lo":-170,"hi":-152},{"s":"RDQN","x":7.9,"y":-156.3,"lo":-163,"hi":-150},{"s":"RDQN","x":9.1,"y":-154.8,"lo":-160,"hi":-150},{"s":"RDQN","x":11,"y":-154.3,"lo":-158,"hi":-150},{"s":"RDQN","x":14,"y":-153.9,"lo":-157,"hi":-150.5},{"s":"RDQN","x":20,"y":-153.6,"lo":-156.5,"hi":-150.5},{"s":"RDQN","x":30,"y":-153.6,"lo":-156.5,"hi":-150.5},{"s":"RDQN","x":40,"y":-153.6,"lo":-156.5,"hi":-150.5},{"s":"RDQN","x":50,"y":-153.6,"lo":-156.5,"hi":-150.5},{"s":"RDQN","x":59.8,"y":-153.1,"lo":-156,"hi":-150},
{"s":"DQN","x":0.4,"y":-162,"lo":-168,"hi":-155},{"s":"DQN","x":1.3,"y":-160.5,"lo":-168,"hi":-154},{"s":"DQN","x":2.1,"y":-163,"lo":-172,"hi":-155},{"s":"DQN","x":3,"y":-163,"lo":-175,"hi":-155},{"s":"DQN","x":3.7,"y":-164.3,"lo":-180,"hi":-155},{"s":"DQN","x":4.5,"y":-168.1,"lo":-188,"hi":-158},{"s":"DQN","x":5.4,"y":-173.5,"lo":-195,"hi":-160},{"s":"DQN","x":6.2,"y":-177.3,"lo":-198,"hi":-163},{"s":"DQN","x":7,"y":-181.4,"lo":-200,"hi":-166},{"s":"DQN","x":7.7,"y":-181.9,"lo":-200,"hi":-168},{"s":"DQN","x":8.5,"y":-175,"lo":-192,"hi":-160},{"s":"DQN","x":9.4,"y":-171.2,"lo":-186,"hi":-157},{"s":"DQN","x":10.1,"y":-175.3,"lo":-188,"hi":-160},{"s":"DQN","x":11,"y":-176.2,"lo":-190,"hi":-162},{"s":"DQN","x":11.9,"y":-172.7,"lo":-188,"hi":-158},{"s":"DQN","x":12.6,"y":-169.6,"lo":-183,"hi":-155},{"s":"DQN","x":13.4,"y":-171.2,"lo":-185,"hi":-156},{"s":"DQN","x":14.3,"y":-167.3,"lo":-182,"hi":-152},{"s":"DQN","x":15.1,"y":-169.3,"lo":-183,"hi":-154},{"s":"DQN","x":15.9,"y":-173.5,"lo":-188,"hi":-158},{"s":"DQN","x":16.8,"y":-173.8,"lo":-188,"hi":-159},{"s":"DQN","x":17.6,"y":-175,"lo":-190,"hi":-160},{"s":"DQN","x":18.3,"y":-174.2,"lo":-188,"hi":-160},{"s":"DQN","x":19.2,"y":-176.5,"lo":-192,"hi":-161},{"s":"DQN","x":20,"y":-177.3,"lo":-193,"hi":-162},{"s":"DQN","x":20.8,"y":-179.6,"lo":-197,"hi":-164},{"s":"DQN","x":21.4,"y":-175.8,"lo":-192,"hi":-160},{"s":"DQN","x":22.3,"y":-170.4,"lo":-185,"hi":-155},{"s":"DQN","x":23.2,"y":-169.3,"lo":-183,"hi":-154},{"s":"DQN","x":24,"y":-166.6,"lo":-181,"hi":-152},{"s":"DQN","x":24.8,"y":-168.6,"lo":-183,"hi":-153},{"s":"DQN","x":25.5,"y":-172.4,"lo":-188,"hi":-157},{"s":"DQN","x":26.3,"y":-167.3,"lo":-183,"hi":-152},{"s":"DQN","x":27.2,"y":-166.6,"lo":-181,"hi":-151},{"s":"DQN","x":28.2,"y":-165.5,"lo":-180,"hi":-150},{"s":"DQN","x":29.5,"y":-168.1,"lo":-183,"hi":-152},{"s":"DQN","x":30.8,"y":-165.8,"lo":-180,"hi":-150},{"s":"DQN","x":32,"y":-164.3,"lo":-178,"hi":-149},{"s":"DQN","x":33.2,"y":-162.8,"lo":-176,"hi":-148},{"s":"DQN","x":34.4,"y":-162,"lo":-175,"hi":-147},{"s":"DQN","x":35.7,"y":-159.4,"lo":-172,"hi":-145},{"s":"DQN","x":36.9,"y":-156.6,"lo":-170,"hi":-143},{"s":"DQN","x":38.1,"y":-156.6,"lo":-170,"hi":-143},{"s":"DQN","x":39.1,"y":-155.8,"lo":-169,"hi":-142},{"s":"DQN","x":40.3,"y":-154.8,"lo":-168,"hi":-141},{"s":"DQN","x":41.2,"y":-157.9,"lo":-171,"hi":-144},{"s":"DQN","x":42.4,"y":-155.8,"lo":-169,"hi":-142},{"s":"DQN","x":43.6,"y":-156.3,"lo":-170,"hi":-142},{"s":"DQN","x":45.2,"y":-158.2,"lo":-173,"hi":-144},{"s":"DQN","x":46.1,"y":-153.6,"lo":-166,"hi":-141},{"s":"DQN","x":47.3,"y":-147.5,"lo":-160,"hi":-137},{"s":"DQN","x":48.6,"y":-146,"lo":-158,"hi":-136},{"s":"DQN","x":49.8,"y":-146,"lo":-158,"hi":-136},{"s":"DQN","x":51,"y":-149,"lo":-162,"hi":-139},{"s":"DQN","x":52.3,"y":-147.8,"lo":-160,"hi":-138},{"s":"DQN","x":53.5,"y":-147.5,"lo":-159,"hi":-137},{"s":"DQN","x":54.7,"y":-147.5,"lo":-159,"hi":-137},{"s":"DQN","x":55.6,"y":-146,"lo":-157,"hi":-136},{"s":"DQN","x":56.9,"y":-146.7,"lo":-157,"hi":-137},{"s":"DQN","x":58.1,"y":-146,"lo":-156,"hi":-137},{"s":"DQN","x":60,"y":-146,"lo":-155,"hi":-138},{"s":"DQN","x":60.6,"y":-143.2,"lo":-152,"hi":-135},{"s":"DQN","x":61.5,"y":-140.6,"lo":-150,"hi":-133},
{"s":"A2C","x":3.6,"y":-150.2},{"s":"A2C","x":4.5,"y":-149},{"s":"A2C","x":5.4,"y":-150.8},{"s":"A2C","x":6.4,"y":-152.8},{"s":"A2C","x":7.3,"y":-154.8},{"s":"A2C","x":8.2,"y":-156.9},{"s":"A2C","x":9.7,"y":-158.2},{"s":"A2C","x":11,"y":-157.9},{"s":"A2C","x":12.2,"y":-156.6},{"s":"A2C","x":13.4,"y":-155.4},{"s":"A2C","x":14.6,"y":-156.3},{"s":"A2C","x":15.9,"y":-157.4},{"s":"A2C","x":17.1,"y":-155.1},{"s":"A2C","x":18.3,"y":-153.6},{"s":"A2C","x":19.9,"y":-152.8},{"s":"A2C","x":21.1,"y":-151.3},{"s":"A2C","x":22.3,"y":-149.7},{"s":"A2C","x":23.5,"y":-152},{"s":"A2C","x":24.8,"y":-151.3},{"s":"A2C","x":26,"y":-151.7},{"s":"A2C","x":27.2,"y":-152.8},{"s":"A2C","x":28.5,"y":-150.5},{"s":"A2C","x":28.9,"y":-149.7},{"s":"A2C","x":30.8,"y":-150.2},{"s":"A2C","x":32.6,"y":-150.2},{"s":"A2C","x":33.8,"y":-149.7},{"s":"A2C","x":35.4,"y":-148.2},{"s":"A2C","x":36.3,"y":-151.3},{"s":"A2C","x":37.5,"y":-150.5},{"s":"A2C","x":38.8,"y":-151},{"s":"A2C","x":40.3,"y":-151.7},{"s":"A2C","x":41.2,"y":-148.2},{"s":"A2C","x":42,"y":-150.8},{"s":"A2C","x":42.8,"y":-148.2},{"s":"A2C","x":43.5,"y":-150.8},{"s":"A2C","x":44.3,"y":-148.2},{"s":"A2C","x":45.2,"y":-150.5},{"s":"A2C","x":46.1,"y":-151.3},{"s":"A2C","x":47.3,"y":-147.5},{"s":"A2C","x":48.6,"y":-150.5},{"s":"A2C","x":50.1,"y":-151.6},{"s":"A2C","x":51,"y":-148.2},{"s":"A2C","x":51.8,"y":-151.7},{"s":"A2C","x":52.9,"y":-149},{"s":"A2C","x":54.1,"y":-150.5},{"s":"A2C","x":55,"y":-148.7},{"s":"A2C","x":55.9,"y":-150.8},{"s":"A2C","x":56.5,"y":-147.5},{"s":"A2C","x":57.8,"y":-147.8},{"s":"A2C","x":59,"y":-147.8},{"s":"A2C","x":60.5,"y":-148.7},{"s":"A2C","x":61.5,"y":-147.5},
{"s":"QMIX","x":0.4,"y":-178.4,"lo":-200,"hi":-170},{"s":"QMIX","x":1.3,"y":-186.5,"lo":-198,"hi":-172},{"s":"QMIX","x":2.1,"y":-186.5,"lo":-205,"hi":-175},{"s":"QMIX","x":2.8,"y":-204.9,"lo":-222,"hi":-182},{"s":"QMIX","x":3.7,"y":-215.6,"lo":-238,"hi":-188},{"s":"QMIX","x":4.5,"y":-211.7,"lo":-248,"hi":-190},{"s":"QMIX","x":5.3,"y":-223.2,"lo":-255,"hi":-195},{"s":"QMIX","x":6.2,"y":-225.2,"lo":-265,"hi":-192},{"s":"QMIX","x":6.9,"y":-215.6,"lo":-260,"hi":-182},{"s":"QMIX","x":7.7,"y":-198.7,"lo":-243,"hi":-172},{"s":"QMIX","x":8.5,"y":-191.8,"lo":-235,"hi":-163},{"s":"QMIX","x":9.3,"y":-176.5,"lo":-205,"hi":-150},{"s":"QMIX","x":10.2,"y":-162.8,"lo":-183,"hi":-155},{"s":"QMIX","x":11,"y":-164,"lo":-180,"hi":-150},{"s":"QMIX","x":11.9,"y":-167.3,"lo":-185,"hi":-143},{"s":"QMIX","x":12.6,"y":-161.2,"lo":-172,"hi":-150},{"s":"QMIX","x":13.4,"y":-157.4,"lo":-163,"hi":-152},{"s":"QMIX","x":14.6,"y":-155.1,"lo":-159,"hi":-152},{"s":"QMIX","x":15.9,"y":-154.8,"lo":-157,"hi":-152},{"s":"QMIX","x":18.3,"y":-154.3,"lo":-156,"hi":-152},{"s":"QMIX","x":22,"y":-154.3,"lo":-156,"hi":-152},{"s":"QMIX","x":26,"y":-154.3,"lo":-156,"hi":-152},{"s":"QMIX","x":29,"y":-153.9,"lo":-156,"hi":-152},{"s":"QMIX","x":30.8,"y":-153.6,"lo":-156,"hi":-151},{"s":"QMIX","x":31.4,"y":-158.9,"lo":-165,"hi":-148},{"s":"QMIX","x":32.1,"y":-155.8,"lo":-162,"hi":-150},{"s":"QMIX","x":33.8,"y":-154.3,"lo":-158,"hi":-151},{"s":"QMIX","x":34.6,"y":-159.7,"lo":-170,"hi":-150},{"s":"QMIX","x":35.4,"y":-169.6,"lo":-195,"hi":-145},{"s":"QMIX","x":36.2,"y":-174.7,"lo":-216,"hi":-135},{"s":"QMIX","x":37.2,"y":-167.3,"lo":-190,"hi":-140},{"s":"QMIX","x":38.6,"y":-157.9,"lo":-168,"hi":-150},{"s":"QMIX","x":39.4,"y":-161.2,"lo":-182,"hi":-147},{"s":"QMIX","x":40.2,"y":-163,"lo":-180,"hi":-150},{"s":"QMIX","x":41.1,"y":-157.9,"lo":-165,"hi":-152},{"s":"QMIX","x":42.1,"y":-155.4,"lo":-158,"hi":-152},{"s":"QMIX","x":43.7,"y":-154.3,"lo":-156,"hi":-152},{"s":"QMIX","x":45.5,"y":-153.6,"lo":-155,"hi":-152},{"s":"QMIX","x":50,"y":-153.9,"lo":-155,"hi":-152},{"s":"QMIX","x":55,"y":-153.9,"lo":-155,"hi":-152},{"s":"QMIX","x":61.5,"y":-153.9,"lo":-155,"hi":-152},
{"s":"SAC","x":0.4,"y":-158.5,"lo":-166,"hi":-152},{"s":"SAC","x":1.4,"y":-152,"lo":-159,"hi":-146},{"s":"SAC","x":2.7,"y":-148.2,"lo":-154,"hi":-143},{"s":"SAC","x":3.6,"y":-144.7,"lo":-149,"hi":-141},{"s":"SAC","x":4.5,"y":-143.2,"lo":-147,"hi":-140},{"s":"SAC","x":5.4,"y":-142.6,"lo":-145,"hi":-140},{"s":"SAC","x":6.2,"y":-141.6,"lo":-144,"hi":-139.5},{"s":"SAC","x":8,"y":-141.6,"lo":-143.6,"hi":-139.6},{"s":"SAC","x":9.7,"y":-141.8,"lo":-143.8,"hi":-139.8},{"s":"SAC","x":11.6,"y":-142.6,"lo":-144.6,"hi":-140.6},{"s":"SAC","x":13.4,"y":-143.2,"lo":-145.2,"hi":-141.2},{"s":"SAC","x":15.3,"y":-143.8,"lo":-145.8,"hi":-141.8},{"s":"SAC","x":17.1,"y":-144.4,"lo":-146.4,"hi":-142.4},{"s":"SAC","x":19,"y":-144.1,"lo":-146.1,"hi":-142.1},{"s":"SAC","x":20.8,"y":-144.7,"lo":-146.7,"hi":-142.7},{"s":"SAC","x":22.7,"y":-144.9,"lo":-146.9,"hi":-142.9},{"s":"SAC","x":24.5,"y":-145.2,"lo":-147.2,"hi":-143.2},{"s":"SAC","x":26.3,"y":-145.2,"lo":-147.2,"hi":-143.2},{"s":"SAC","x":28.8,"y":-145.2,"lo":-147.2,"hi":-143.2},{"s":"SAC","x":30,"y":-146.2,"lo":-148.2,"hi":-144.2},{"s":"SAC","x":31.9,"y":-145.9,"lo":-147.9,"hi":-143.9},{"s":"SAC","x":34.4,"y":-145.5,"lo":-147.5,"hi":-143.5},{"s":"SAC","x":37.5,"y":-145.5,"lo":-147.5,"hi":-143.5},{"s":"SAC","x":40.6,"y":-145.6,"lo":-147.6,"hi":-143.6},{"s":"SAC","x":43.6,"y":-144.9,"lo":-146.9,"hi":-142.9},{"s":"SAC","x":46.7,"y":-145.4,"lo":-147.4,"hi":-143.4},{"s":"SAC","x":49.8,"y":-145.6,"lo":-147.6,"hi":-143.6},{"s":"SAC","x":52.9,"y":-145.4,"lo":-147.4,"hi":-143.4},{"s":"SAC","x":55.9,"y":-145.5,"lo":-147.5,"hi":-143.5},{"s":"SAC","x":59,"y":-145.6,"lo":-147.6,"hi":-143.6},{"s":"SAC","x":60.6,"y":-145.6,"lo":-147.6,"hi":-143.6},
{"s":"PPO","x":0.4,"y":-162,"lo":-166,"hi":-158},{"s":"PPO","x":1.7,"y":-160.8,"lo":-165,"hi":-156},{"s":"PPO","x":3.6,"y":-159.7,"lo":-165,"hi":-154},{"s":"PPO","x":4.8,"y":-157.9,"lo":-164,"hi":-152},{"s":"PPO","x":6.4,"y":-156.3,"lo":-163,"hi":-150},{"s":"PPO","x":7.9,"y":-153.3,"lo":-160,"hi":-147},{"s":"PPO","x":9.1,"y":-151.3,"lo":-158,"hi":-145},{"s":"PPO","x":10.3,"y":-150.2,"lo":-157,"hi":-144},{"s":"PPO","x":11.6,"y":-148.2,"lo":-155,"hi":-142},{"s":"PPO","x":12.8,"y":-148.2,"lo":-155,"hi":-142},{"s":"PPO","x":14,"y":-147.8,"lo":-154,"hi":-141},{"s":"PPO","x":15.3,"y":-146.7,"lo":-153,"hi":-140},{"s":"PPO","x":17.1,"y":-146.7,"lo":-153,"hi":-140},{"s":"PPO","x":18.3,"y":-146.7,"lo":-153,"hi":-140},{"s":"PPO","x":20.2,"y":-145.9,"lo":-152,"hi":-139},{"s":"PPO","x":21.7,"y":-145.6,"lo":-152,"hi":-139},{"s":"PPO","x":23.2,"y":-145.2,"lo":-152,"hi":-139},{"s":"PPO","x":25,"y":-144.9,"lo":-151,"hi":-138},{"s":"PPO","x":26.9,"y":-145.2,"lo":-151,"hi":-139},{"s":"PPO","x":28.8,"y":-144.7,"lo":-151,"hi":-138},{"s":"PPO","x":29.5,"y":-143.6,"lo":-150,"hi":-137},{"s":"PPO","x":31.4,"y":-142.4,"lo":-149,"hi":-136},{"s":"PPO","x":33.2,"y":-142.9,"lo":-149,"hi":-136},{"s":"PPO","x":34.4,"y":-143.3,"lo":-150,"hi":-137},{"s":"PPO","x":36.2,"y":-142.9,"lo":-149,"hi":-136},{"s":"PPO","x":38.1,"y":-142.1,"lo":-148,"hi":-136},{"s":"PPO","x":40,"y":-141.3,"lo":-147,"hi":-135},{"s":"PPO","x":41.8,"y":-140.6,"lo":-147,"hi":-134},{"s":"PPO","x":43.7,"y":-141.3,"lo":-147,"hi":-135},{"s":"PPO","x":45.5,"y":-141.3,"lo":-147,"hi":-135},{"s":"PPO","x":47.4,"y":-141,"lo":-147,"hi":-135},{"s":"PPO","x":49.2,"y":-141,"lo":-147,"hi":-135},{"s":"PPO","x":51.1,"y":-141.3,"lo":-147,"hi":-135},{"s":"PPO","x":52.9,"y":-141,"lo":-147,"hi":-135},{"s":"PPO","x":54.7,"y":-141.3,"lo":-147,"hi":-135},{"s":"PPO","x":56,"y":-142.4,"lo":-148,"hi":-137},{"s":"PPO","x":57.8,"y":-142.4,"lo":-148,"hi":-137},{"s":"PPO","x":59.7,"y":-142.1,"lo":-148,"hi":-136},{"s":"PPO","x":60.6,"y":-141.6,"lo":-147,"hi":-136},
{"s":"APEX_DQN","x":0.4,"y":-192.6,"lo":-205,"hi":-183},{"s":"APEX_DQN","x":1.4,"y":-187.6,"lo":-197,"hi":-180},{"s":"APEX_DQN","x":2.7,"y":-179.3,"lo":-186,"hi":-173},{"s":"APEX_DQN","x":3.6,"y":-172.7,"lo":-178,"hi":-168},{"s":"APEX_DQN","x":4.5,"y":-164.3,"lo":-168,"hi":-161},{"s":"APEX_DQN","x":5.3,"y":-157.9,"lo":-161,"hi":-155},{"s":"APEX_DQN","x":6.4,"y":-153.3,"lo":-156,"hi":-151},{"s":"APEX_DQN","x":7.3,"y":-148.7,"lo":-151,"hi":-146.5},{"s":"APEX_DQN","x":8.5,"y":-144.4,"lo":-146,"hi":-143},{"s":"APEX_DQN","x":9.4,"y":-142.6,"lo":-143.6,"hi":-141.6},{"s":"APEX_DQN","x":10.3,"y":-142.1,"lo":-143.1,"hi":-141.1},{"s":"APEX_DQN","x":11.6,"y":-139.5,"lo":-140.5,"hi":-138.5},{"s":"APEX_DQN","x":12.8,"y":-136.7,"lo":-137.7,"hi":-135.7},{"s":"APEX_DQN","x":14,"y":-135.5,"lo":-136.5,"hi":-134.5},{"s":"APEX_DQN","x":15.6,"y":-134.9,"lo":-135.9,"hi":-133.9},{"s":"APEX_DQN","x":17.1,"y":-134.4,"lo":-135.4,"hi":-133.4},{"s":"APEX_DQN","x":18.3,"y":-133.7,"lo":-134.7,"hi":-132.7},{"s":"APEX_DQN","x":20.2,"y":-134,"lo":-135,"hi":-133},{"s":"APEX_DQN","x":21.4,"y":-133.4,"lo":-134.4,"hi":-132.4},{"s":"APEX_DQN","x":23.2,"y":-133.7,"lo":-134.7,"hi":-132.7},{"s":"APEX_DQN","x":25,"y":-133.4,"lo":-134.4,"hi":-132.4},{"s":"APEX_DQN","x":26.9,"y":-133.4,"lo":-134.4,"hi":-132.4},{"s":"APEX_DQN","x":28.8,"y":-133.2,"lo":-134.2,"hi":-132.2},{"s":"APEX_DQN","x":30.1,"y":-133.7,"lo":-134.7,"hi":-132.7},{"s":"APEX_DQN","x":31.9,"y":-133.2,"lo":-134.2,"hi":-132.2},{"s":"APEX_DQN","x":33.8,"y":-133.4,"lo":-134.4,"hi":-132.4},{"s":"APEX_DQN","x":35.7,"y":-133.7,"lo":-134.7,"hi":-132.7},{"s":"APEX_DQN","x":37.5,"y":-133.4,"lo":-134.4,"hi":-132.4},{"s":"APEX_DQN","x":39.4,"y":-133.4,"lo":-134.4,"hi":-132.4},{"s":"APEX_DQN","x":41.2,"y":-133.2,"lo":-134.2,"hi":-132.2},{"s":"APEX_DQN","x":43,"y":-133.4,"lo":-134.4,"hi":-132.4},{"s":"APEX_DQN","x":44.3,"y":-134,"lo":-135,"hi":-133},{"s":"APEX_DQN","x":45.5,"y":-133.4,"lo":-134.4,"hi":-132.4},{"s":"APEX_DQN","x":46.7,"y":-133.4,"lo":-135,"hi":-132},{"s":"APEX_DQN","x":47.6,"y":-137.5,"lo":-140,"hi":-134},{"s":"APEX_DQN","x":48.6,"y":-134.4,"lo":-137,"hi":-132},{"s":"APEX_DQN","x":49.8,"y":-133.4,"lo":-136,"hi":-131},{"s":"APEX_DQN","x":50.7,"y":-133.1,"lo":-136,"hi":-130},{"s":"APEX_DQN","x":51.6,"y":-142.9,"lo":-147,"hi":-136},{"s":"APEX_DQN","x":52.6,"y":-137.5,"lo":-143,"hi":-132},{"s":"APEX_DQN","x":53.3,"y":-134.9,"lo":-141,"hi":-129},{"s":"APEX_DQN","x":54.1,"y":-134,"lo":-141,"hi":-128},{"s":"APEX_DQN","x":54.9,"y":-138.3,"lo":-145,"hi":-130},{"s":"APEX_DQN","x":55.7,"y":-137.5,"lo":-144,"hi":-130},{"s":"APEX_DQN","x":56.5,"y":-136,"lo":-143,"hi":-130},{"s":"APEX_DQN","x":57.5,"y":-134,"lo":-142,"hi":-129},{"s":"APEX_DQN","x":58.1,"y":-133.7,"lo":-142,"hi":-129},{"s":"APEX_DQN","x":59,"y":-147.5,"lo":-152,"hi":-140},{"s":"APEX_DQN","x":59.8,"y":-138.6,"lo":-146,"hi":-134},{"s":"APEX_DQN","x":60.5,"y":-137,"lo":-144,"hi":-132},{"s":"APEX_DQN","x":61.5,"y":-134.9,"lo":-142,"hi":-130},
{"s":"MADDPG","x":0.4,"y":-162},{"s":"MADDPG","x":1.2,"y":-161},{"s":"MADDPG","x":1.6,"y":-136.7},{"s":"MADDPG","x":2.1,"y":-122.2},{"s":"MADDPG","x":2.8,"y":-107.7},{"s":"MADDPG","x":3.6,"y":-102.3},{"s":"MADDPG","x":4.5,"y":-100.8},{"s":"MADDPG","x":6,"y":-98.8},{"s":"MADDPG","x":7.3,"y":-98.2},{"s":"MADDPG","x":11,"y":-97.9},{"s":"MADDPG","x":20,"y":-97.8},{"s":"MADDPG","x":30,"y":-97.7},{"s":"MADDPG","x":40,"y":-97.7},{"s":"MADDPG","x":50,"y":-97.6},{"s":"MADDPG","x":61.5,"y":-97.6}
]
},
"concat": [
{
 "title": {"text": "(a)", "orient": "bottom", "anchor": "middle", "font": "Liberation Serif", "fontSize": 17, "fontWeight": "normal", "color": "#000000", "offset": 26},
 "resolve": {"scale": {"color": "independent", "stroke": "independent", "strokeDash": "independent", "fill": "independent"}, "legend": {"color": "independent", "stroke": "independent", "strokeDash": "independent", "fill": "independent"}},
 "vconcat": [{
  "title": {"text": "Mean Episode Reward", "anchor": "middle", "fontSize": 15, "fontWeight": "bold", "color": "#333333", "offset": 9},
  "width": 651, "height": 380,
  "data": {"name": "a"},
  "resolve": {"scale": {"strokeDash": "independent"}, "legend": {"color": "independent", "stroke": "independent", "strokeDash": "independent"}},
  "layer": [
   {"transform": [{"filter": "isValid(datum.lo)"}],
    "mark": {"type": "area", "opacity": 0.13, "clip": false},
    "encoding": {
     "x": {"field": "x", "type": "quantitative", "title": "episode"},
     "y": {"field": "lo", "type": "quantitative", "title": null},
     "y2": {"field": "hi"},
     "fill": {"field": "s", "type": "nominal", "legend": null,
       "scale": {"domain": ["A2C","IMPALA","APEX_DDPG","TD3","SAC","DDPG","APEX_DQN","RDQN","DQN","MADDPG","PPO","QMIX","MACRPO"],
                 "range": ["#d46ad6","#4f86e0","#55c6df","#b1245f","#9ccb5b","#1f9384","#ef6c35","#aaaaaa","#7e4fc0","#f5b52e","#f5b52e","#e8175d","#000000"]}}}},
   {"transform": [{"filter": {"field": "s", "oneOf": ["MACRPO","QMIX","PPO","MADDPG","DQN","RDQN","APEX_DQN","DDPG","SAC"]}}],
    "mark": {"type": "line", "strokeWidth": 2, "clip": false},
    "encoding": {
     "x": {"field": "x", "type": "quantitative", "title": "episode", "scale": {"domain": [0, 250], "range": [-9, 651], "nice": false, "zero": false},
       "axis": {"values": [50, 100, 150, 200, 250], "labelExpr": "datum.value + 'k'", "titleAlign": "right", "titleBaseline": "bottom", "titleX": 642, "titleY": 0, "titleColor": "#6b6b6b", "titleFontSize": 13, "titleFontWeight": "normal", "offset": -6, "tickSize": 15, "labelPadding": 8, "labelFlush": false}},
     "y": {"field": "y", "type": "quantitative", "title": null, "scale": {"domain": [-5, 30], "nice": false, "zero": false},
       "axis": {"values": [-5, 0, 5, 10, 15, 20, 25, 30], "gridColor": {"condition": {"test": "datum.value === 0", "value": "#dcdcdc"}, "value": "#eeeeee"}, "gridWidth": {"condition": {"test": "datum.value === 0", "value": 2}, "value": 1}}},
     "color": {"field": "s", "type": "nominal",
       "scale": {"domain": ["MACRPO","QMIX","PPO","MADDPG","DQN","RDQN","APEX_DQN","DDPG","SAC"],
                 "range": ["#000000","#e8175d","#f5b52e","#f5b52e","#7e4fc0","#aaaaaa","#ef6c35","#1f9384","#9ccb5b"]},
       "legend": {"orient": "none", "legendX": -10, "legendY": -35,
         "labelColor": {"expr": "['#000000','#e8175d','#f5b52e','#f5b52e','#7e4fc0','#aaaaaa','#ef6c35','#1f9384','#9ccb5b'][indexof(['MACRPO','QMIX','PPO','MADDPG','DQN','RDQN','APEX_DQN','DDPG','SAC'], datum.label)]"}}},
     "strokeDash": {"field": "s", "type": "nominal",
       "scale": {"domain": ["MACRPO","QMIX","PPO","MADDPG","DQN","RDQN","APEX_DQN","DDPG","SAC"],
                 "range": [[4,3],[1,0],[5,4],[1,0],[1,0],[1,0],[1,0],[1,0],[1,0]]}}}},
   {"transform": [{"filter": {"field": "s", "oneOf": ["TD3","APEX_DDPG","IMPALA","A2C"]}}],
    "mark": {"type": "line", "strokeWidth": 2, "clip": false},
    "encoding": {
     "x": {"field": "x", "type": "quantitative", "title": "episode"},
     "y": {"field": "y", "type": "quantitative", "title": null},
     "stroke": {"field": "s", "type": "nominal",
       "scale": {"domain": ["TD3","APEX_DDPG","IMPALA","A2C"],
                 "range": ["#b1245f","#55c6df","#4f86e0","#d46ad6"]},
       "legend": {"orient": "none", "legendX": 168, "legendY": -19, "columnPadding": 5,
         "labelColor": {"expr": "['#b1245f','#55c6df','#4f86e0','#d46ad6'][indexof(['TD3','APEX_DDPG','IMPALA','A2C'], datum.label)]"}}},
     "strokeDash": {"field": "s", "type": "nominal",
       "scale": {"domain": ["TD3","APEX_DDPG","IMPALA","A2C"], "range": [[1,0],[1,0],[1,0],[1,0]]}}}},
   {"transform": [{"filter": {"field": "s", "oneOf": ["QMIX","PPO","MADDPG","DQN","RDQN","APEX_DQN","DDPG","SAC","TD3","APEX_DDPG"]}}, {"aggregate": [{"op": "argmax", "field": "x", "as": "last"}], "groupby": ["s"]}],
    "mark": {"type": "point", "filled": true, "size": 35, "opacity": 1, "clip": false, "strokeWidth": 0},
    "encoding": {
     "x": {"field": "last.x", "type": "quantitative", "title": "episode"},
     "y": {"field": "last.y", "type": "quantitative", "title": null},
     "fill": {"field": "s", "type": "nominal", "legend": null}}}
  ]
 }]
},
{
 "title": {"text": "(b)", "orient": "bottom", "anchor": "middle", "font": "Liberation Serif", "fontSize": 17, "fontWeight": "normal", "color": "#000000", "offset": 24},
 "resolve": {"scale": {"color": "independent", "stroke": "independent", "strokeDash": "independent", "fill": "independent"}, "legend": {"color": "independent", "stroke": "independent", "strokeDash": "independent", "fill": "independent"}},
 "vconcat": [{
  "title": {"text": "Mean Episode Reward", "anchor": "middle", "fontSize": 15, "fontWeight": "bold", "color": "#333333", "offset": 9},
  "width": 651, "height": 345,
  "data": {"name": "b"},
  "resolve": {"scale": {"strokeDash": "independent"}, "legend": {"color": "independent", "stroke": "independent", "strokeDash": "independent"}},
  "layer": [
   {"transform": [{"filter": {"field": "s", "oneOf": ["MACRPO","random","DQN","APEX_DQN","RDQN","QMIX","MADDPG","DDPG","TD3"]}}],
    "mark": {"type": "line", "strokeWidth": 2, "clip": false},
    "encoding": {
     "x": {"field": "x", "type": "quantitative", "title": "episode", "scale": {"domain": [0, 60], "nice": false, "zero": false},
       "axis": {"values": [10, 20, 30, 40, 50, 60], "labelExpr": "datum.value + 'k'", "titleAlign": "right", "titleBaseline": "bottom", "titleX": 642, "titleY": 0, "titleColor": "#6b6b6b", "titleFontSize": 13, "titleFontWeight": "normal", "offset": -6, "tickSize": 13, "labelPadding": 10, "labelFlush": false}},
     "y": {"field": "y", "type": "quantitative", "title": null, "scale": {"domain": [-150, 50], "nice": false, "zero": false},
       "axis": {"values": [-150, -100, -50, 0, 50], "gridColor": {"condition": {"test": "datum.value === 0", "value": "#dcdcdc"}, "value": "#eeeeee"}, "gridWidth": {"condition": {"test": "datum.value === 0", "value": 2}, "value": 1}}},
     "color": {"field": "s", "type": "nominal",
       "scale": {"domain": ["MACRPO","random","DQN","APEX_DQN","RDQN","QMIX","MADDPG","DDPG","TD3"],
                 "range": ["#000000","#d46ad6","#7e4fc0","#ef6c35","#aaaaaa","#e0403e","#f5b52e","#3d9a50","#a6205f"]},
       "legend": {"orient": "none", "legendX": -21, "legendY": -71, "columnPadding": 3,
         "labelColor": {"expr": "['#000000','#d46ad6','#7e4fc0','#ef6c35','#aaaaaa','#e0403e','#f5b52e','#3d9a50','#a6205f'][indexof(['MACRPO','random','DQN','APEX_DQN','RDQN','QMIX','MADDPG','DDPG','TD3'], datum.label)]"}}},
     "strokeDash": {"field": "s", "type": "nominal",
       "scale": {"domain": ["MACRPO","random","DQN","APEX_DQN","RDQN","QMIX","MADDPG","DDPG","TD3"],
                 "range": [[4,3],[1,0],[1,0],[1,0],[1,0],[1,0],[1,0],[1,0],[1,0]]}}}},
   {"transform": [{"filter": {"field": "s", "oneOf": ["SAC","APEX_DDPG","A2C","IMPALA","TRPO (Gupta)","DDPG (Gupta)","PPO"]}}],
    "mark": {"type": "line", "strokeWidth": 2, "clip": false},
    "encoding": {
     "x": {"field": "x", "type": "quantitative", "title": "episode"},
     "y": {"field": "y", "type": "quantitative", "title": null},
     "stroke": {"field": "s", "type": "nominal",
       "scale": {"domain": ["SAC","APEX_DDPG","A2C","IMPALA","TRPO (Gupta)","DDPG (Gupta)","PPO"],
                 "range": ["#9ccb5b","#55c6df","#3d9a50","#4f86e0","#9ccb5b","#ef7aa1","#f5b52e"]},
       "legend": {"orient": "none", "legendX": 7, "legendY": -56, "columnPadding": 6,
         "labelColor": {"expr": "['#9ccb5b','#55c6df','#3d9a50','#4f86e0','#9ccb5b','#ef7aa1','#f5b52e'][indexof(['SAC','APEX_DDPG','A2C','IMPALA','TRPO (Gupta)','DDPG (Gupta)','PPO'], datum.label)]"}}},
     "strokeDash": {"field": "s", "type": "nominal",
       "scale": {"domain": ["SAC","APEX_DDPG","A2C","IMPALA","TRPO (Gupta)","DDPG (Gupta)","PPO"],
                 "range": [[1,0],[1,0],[5,4],[5,4],[5,4],[1,0],[5,4]]}}}},
   {"transform": [{"filter": {"field": "s", "oneOf": ["MACRPO","random","MADDPG","DDPG","TD3","SAC","A2C","IMPALA","TRPO (Gupta)","DDPG (Gupta)","PPO"]}}, {"aggregate": [{"op": "argmax", "field": "x", "as": "last"}], "groupby": ["s"]}],
    "mark": {"type": "point", "filled": true, "size": 35, "opacity": 1, "clip": false, "strokeWidth": 0},
    "encoding": {
     "x": {"field": "last.x", "type": "quantitative", "title": "episode"},
     "y": {"field": "last.y", "type": "quantitative", "title": null},
     "fill": {"field": "s", "type": "nominal", "legend": null,
       "scale": {"domain": ["PPO","DDPG (Gupta)","TRPO (Gupta)","IMPALA","A2C","SAC","TD3","DDPG","MADDPG","random","MACRPO"],
                 "range": ["#f5b52e","#ef7aa1","#9ccb5b","#4f86e0","#3d9a50","#9ccb5b","#a6205f","#3d9a50","#f5b52e","#d46ad6","#000000"]}}}}
  ]
 }]
},
{
 "title": {"text": "(c)", "orient": "bottom", "anchor": "middle", "font": "Liberation Serif", "fontSize": 17, "fontWeight": "normal", "color": "#000000", "offset": 26},
 "resolve": {"scale": {"color": "independent", "stroke": "independent", "strokeDash": "independent", "fill": "independent"}, "legend": {"color": "independent", "stroke": "independent", "strokeDash": "independent", "fill": "independent"}},
 "vconcat": [{
  "title": {"text": "Mean Episode Reward", "anchor": "middle", "fontSize": 15, "fontWeight": "bold", "color": "#333333", "offset": 9},
  "width": 651, "height": 373,
  "data": {"name": "c"},
  "resolve": {"scale": {"strokeDash": "independent"}, "legend": {"color": "independent", "stroke": "independent", "strokeDash": "independent"}},
  "layer": [
   {"transform": [{"filter": "isValid(datum.lo)"}],
    "mark": {"type": "area", "opacity": 0.12, "clip": false},
    "encoding": {
     "x": {"field": "x", "type": "quantitative", "title": "episode"},
     "y": {"field": "lo", "type": "quantitative", "title": null},
     "y2": {"field": "hi"},
     "fill": {"field": "s", "type": "nominal", "legend": null,
       "scale": {"domain": ["APEX_DQN","DQN","QMIX","A2C","SAC","PPO","RDQN","IMPALA","MADDPG","MACRPO"],
                 "range": ["#ef6c35","#7e4fc0","#e0403e","#d46ad6","#9ccb5b","#f5b52e","#aaaaaa","#4f86e0","#f5b52e","#000000"]}}}},
   {"transform": [{"filter": {"field": "s", "oneOf": ["MACRPO","MADDPG","IMPALA","RDQN","PPO","SAC","A2C","QMIX","DQN"]}}],
    "mark": {"type": "line", "strokeWidth": 2, "clip": false},
    "encoding": {
     "x": {"field": "x", "type": "quantitative", "title": "episode", "scale": {"domain": [0, 60], "nice": false, "zero": false},
       "axis": {"values": [10, 20, 30, 40, 50, 60], "labelExpr": "datum.value + 'k'", "titleAlign": "right", "titleBaseline": "bottom", "titleX": 642, "titleY": 0, "titleColor": "#6b6b6b", "titleFontSize": 13, "titleFontWeight": "normal", "offset": -7, "tickSize": 15, "labelPadding": 8, "labelFlush": false}},
     "y": {"field": "y", "type": "quantitative", "title": null, "scale": {"domain": [-265, -94], "nice": false, "zero": false},
       "axis": {"values": [-250, -200, -150, -100], "gridColor": "#eeeeee"}},
     "color": {"field": "s", "type": "nominal",
       "scale": {"domain": ["MACRPO","MADDPG","IMPALA","RDQN","PPO","SAC","A2C","QMIX","DQN"],
                 "range": ["#000000","#f5b52e","#4f86e0","#aaaaaa","#f5b52e","#9ccb5b","#d46ad6","#e0403e","#7e4fc0"]},
       "legend": {"orient": "none", "legendX": 1, "legendY": -45, "columnPadding": 6,
         "labelColor": {"expr": "['#000000','#f5b52e','#4f86e0','#aaaaaa','#f5b52e','#9ccb5b','#d46ad6','#e0403e','#7e4fc0'][indexof(['MACRPO','MADDPG','IMPALA','RDQN','PPO','SAC','A2C','QMIX','DQN'], datum.label)]"}}},
     "strokeDash": {"field": "s", "type": "nominal",
       "scale": {"domain": ["MACRPO","MADDPG","IMPALA","RDQN","PPO","SAC","A2C","QMIX","DQN"],
                 "range": [[4,3],[1,0],[1,0],[1,0],[5,4],[1,0],[1,0],[1,0],[1,0]]}}}},
   {"transform": [{"filter": {"field": "s", "oneOf": ["APEX_DQN"]}}],
    "mark": {"type": "line", "strokeWidth": 2, "clip": false},
    "encoding": {
     "x": {"field": "x", "type": "quantitative", "title": "episode"},
     "y": {"field": "y", "type": "quantitative", "title": null},
     "stroke": {"field": "s", "type": "nominal",
       "scale": {"domain": ["APEX_DQN"], "range": ["#ef6c35"]},
       "legend": {"orient": "none", "legendX": 280, "legendY": -29, "labelColor": "#ef6c35"}}}},
   {"transform": [{"filter": {"field": "s", "oneOf": ["MACRPO","RDQN","PPO","SAC"]}}, {"aggregate": [{"op": "argmax", "field": "x", "as": "last"}], "groupby": ["s"]}],
    "mark": {"type": "point", "filled": true, "size": 35, "opacity": 1, "clip": false, "strokeWidth": 0},
    "encoding": {
     "x": {"field": "last.x", "type": "quantitative", "title": "episode"},
     "y": {"field": "last.y", "type": "quantitative", "title": null},
     "fill": {"field": "s", "type": "nominal", "legend": null}}}
  ]
 }]
}
]
}
